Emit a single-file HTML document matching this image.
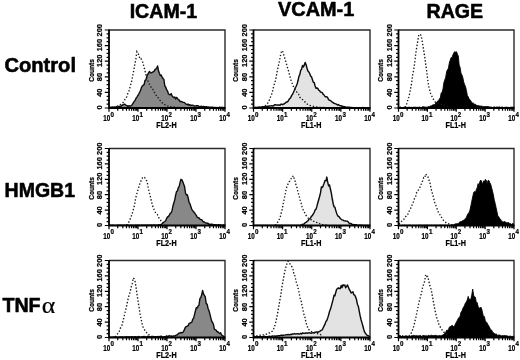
<!DOCTYPE html>
<html lang="en">
<head>
<meta charset="utf-8">
<title>ICAM-1, VCAM-1 and RAGE expression: Control, HMGB1, TNF&alpha;</title>
<style>
html,body{margin:0;padding:0;background:#fff;}
body{width:520px;height:360px;overflow:hidden;}
svg{display:block;filter:grayscale(1) blur(0.3px);}
text{font-family:"Liberation Sans",Arial,Helvetica,sans-serif;fill:#000;}
.ttl{font-weight:bold;font-size:19.6px;stroke:#000;stroke-width:0.55px;stroke-linejoin:round;}
.alpha{font-weight:normal;stroke:#000;stroke-width:0.2px;font-size:22.8px;font-family:"Liberation Serif","DejaVu Serif",serif;}
.ax,.xl,.xt,.yt,.sup{stroke:#000;stroke-width:0.22px;}
.ax{font-weight:bold;font-size:7.9px;}
.xl{font-weight:bold;font-size:8.3px;}
.xt{font-weight:bold;font-size:8.4px;}
.yt{font-weight:bold;font-size:6.9px;}
.sup{font-weight:bold;font-size:6.9px;}
</style>
</head>
<body>
<svg width="520" height="360" viewBox="0 0 520 360">
<rect width="520" height="360" fill="#fff"/>
<text class="ttl" x="163.4" y="18.0" text-anchor="middle">ICAM-1</text>
<text class="ttl" x="316.2" y="16.0" text-anchor="middle" textLength="76.2" lengthAdjust="spacingAndGlyphs">VCAM-1</text>
<text class="ttl" x="454.8" y="17.6" text-anchor="middle">RAGE</text>
<text class="ttl" x="4.4" y="72" textLength="71.6" lengthAdjust="spacingAndGlyphs">Control</text>
<text class="ttl" x="4.6" y="197" textLength="70.4" lengthAdjust="spacingAndGlyphs">HMGB1</text>
<g aria-label="TNFα"><text class="ttl" x="2.4" y="312" textLength="38.2" lengthAdjust="spacingAndGlyphs">TNF</text><text class="alpha" transform="translate(41.8,312.8) scale(1.13,1)">α</text></g>
<g id="p00">
<clipPath id="c00"><rect x="109" y="30" width="116" height="78"/></clipPath>
<g clip-path="url(#c00)">
<path d="M109.0,107.1 L109.9,107.1 L110.8,107.2 L111.7,107.1 L112.6,107.0 L113.5,107.1 L114.4,107.3 L115.3,107.2 L116.2,106.8 L117.1,106.6 L118.0,106.7 L118.9,106.8 L119.8,106.2 L120.7,106.5 L121.6,105.6 L122.5,105.1 L123.4,104.4 L124.3,104.1 L125.2,104.5 L126.1,105.3 L127.0,105.6 L127.9,106.4 L128.8,105.8 L129.7,106.0 L130.6,106.0 L131.5,105.5 L132.4,104.3 L133.3,102.8 L134.2,101.4 L135.1,100.4 L136.0,98.2 L136.9,97.1 L137.8,95.5 L138.7,94.3 L139.6,92.3 L140.5,90.5 L141.4,87.6 L142.3,86.1 L143.2,85.2 L144.1,84.6 L145.0,80.3 L145.9,80.0 L146.8,76.4 L147.7,74.4 L148.6,72.8 L149.5,71.4 L150.4,72.9 L151.3,72.9 L152.2,72.4 L153.1,71.9 L154.0,71.4 L154.9,69.7 L155.8,69.1 L156.7,67.8 L157.6,66.0 L158.5,70.8 L159.4,73.3 L160.3,75.5 L161.2,75.1 L162.1,77.1 L163.0,78.5 L163.9,79.5 L164.8,85.8 L165.7,87.0 L166.6,89.8 L167.5,90.9 L168.4,93.8 L169.3,94.6 L170.2,94.9 L171.1,93.6 L172.0,95.8 L172.9,96.8 L173.8,97.6 L174.7,97.0 L175.6,99.0 L176.5,97.4 L177.4,98.3 L178.3,99.7 L179.2,99.9 L180.1,101.7 L181.0,101.4 L181.9,101.7 L182.8,102.3 L183.7,102.4 L184.6,102.7 L185.5,103.9 L186.4,104.1 L187.3,104.7 L188.2,104.1 L189.1,105.2 L190.0,104.7 L190.9,105.6 L191.8,105.1 L192.7,105.1 L193.6,105.6 L194.5,106.0 L195.4,105.9 L196.3,105.8 L197.2,105.7 L198.1,105.8 L199.0,106.4 L199.9,106.6 L200.8,106.4 L201.7,106.3 L202.6,106.9 L203.5,106.4 L204.4,106.6 L205.3,107.0 L206.2,106.5 L207.1,107.1 L208.0,106.9 L208.9,107.1 L209.8,107.1 L210.7,107.2 L211.6,107.3 L212.5,107.1 L213.4,107.5 L214.3,107.4 L215.2,107.5 L216.1,107.6 L217.0,107.5 L217.9,107.6 L218.8,107.5 L219.7,107.3 L220.6,107.5 L221.5,107.4 L222.4,107.3 L223.3,107.6 L224.2,107.5 L225.0,107.4 L225.0,109.0 L109.0,109.0Z" fill="#888888"/>
<path d="M109.0,107.1 L109.9,107.1 L110.8,107.2 L111.7,107.1 L112.6,107.0 L113.5,107.1 L114.4,107.3 L115.3,107.2 L116.2,106.8 L117.1,106.6 L118.0,106.7 L118.9,106.8 L119.8,106.2 L120.7,106.5 L121.6,105.6 L122.5,105.1 L123.4,104.4 L124.3,104.1 L125.2,104.5 L126.1,105.3 L127.0,105.6 L127.9,106.4 L128.8,105.8 L129.7,106.0 L130.6,106.0 L131.5,105.5 L132.4,104.3 L133.3,102.8 L134.2,101.4 L135.1,100.4 L136.0,98.2 L136.9,97.1 L137.8,95.5 L138.7,94.3 L139.6,92.3 L140.5,90.5 L141.4,87.6 L142.3,86.1 L143.2,85.2 L144.1,84.6 L145.0,80.3 L145.9,80.0 L146.8,76.4 L147.7,74.4 L148.6,72.8 L149.5,71.4 L150.4,72.9 L151.3,72.9 L152.2,72.4 L153.1,71.9 L154.0,71.4 L154.9,69.7 L155.8,69.1 L156.7,67.8 L157.6,66.0 L158.5,70.8 L159.4,73.3 L160.3,75.5 L161.2,75.1 L162.1,77.1 L163.0,78.5 L163.9,79.5 L164.8,85.8 L165.7,87.0 L166.6,89.8 L167.5,90.9 L168.4,93.8 L169.3,94.6 L170.2,94.9 L171.1,93.6 L172.0,95.8 L172.9,96.8 L173.8,97.6 L174.7,97.0 L175.6,99.0 L176.5,97.4 L177.4,98.3 L178.3,99.7 L179.2,99.9 L180.1,101.7 L181.0,101.4 L181.9,101.7 L182.8,102.3 L183.7,102.4 L184.6,102.7 L185.5,103.9 L186.4,104.1 L187.3,104.7 L188.2,104.1 L189.1,105.2 L190.0,104.7 L190.9,105.6 L191.8,105.1 L192.7,105.1 L193.6,105.6 L194.5,106.0 L195.4,105.9 L196.3,105.8 L197.2,105.7 L198.1,105.8 L199.0,106.4 L199.9,106.6 L200.8,106.4 L201.7,106.3 L202.6,106.9 L203.5,106.4 L204.4,106.6 L205.3,107.0 L206.2,106.5 L207.1,107.1 L208.0,106.9 L208.9,107.1 L209.8,107.1 L210.7,107.2 L211.6,107.3 L212.5,107.1 L213.4,107.5 L214.3,107.4 L215.2,107.5 L216.1,107.6 L217.0,107.5 L217.9,107.6 L218.8,107.5 L219.7,107.3 L220.6,107.5 L221.5,107.4 L222.4,107.3 L223.3,107.6 L224.2,107.5 L225.0,107.4" fill="none" stroke="#0c0c0c" stroke-width="1.4" stroke-linejoin="round"/>
<path d="M113.9,107.2 L114.9,107.1 L115.9,106.9 L116.9,106.5 L117.9,105.8 L118.9,105.6 L119.9,104.9 L120.9,104.2 L121.9,103.4 L122.9,102.5 L123.9,101.7 L124.9,99.5 L125.9,98.0 L126.9,96.5 L127.9,93.1 L128.9,91.2 L129.9,87.5 L130.9,84.1 L131.9,80.3 L132.9,74.5 L133.9,69.8 L134.9,63.9 L135.9,58.7 L136.9,51.7 L137.9,53.2 L138.9,55.1 L139.9,58.9 L140.9,58.6 L141.9,60.4 L142.9,62.5 L143.9,66.8 L144.9,70.2 L145.9,74.8 L146.9,78.2 L147.9,81.1 L148.9,83.5 L149.9,84.8 L150.9,86.8 L151.9,88.3 L152.9,89.5 L153.9,91.9 L154.9,93.0 L155.9,94.7 L156.9,96.9 L157.9,97.6 L158.9,98.8 L159.9,100.2 L160.9,101.4 L161.9,102.7 L162.9,103.2 L163.9,104.5 L164.9,104.7 L165.9,105.0 L166.9,105.5 L167.9,106.2 L168.9,106.5 L169.9,106.8 L170.9,106.7 L171.9,106.9 L172.9,106.9 L173.9,106.9 L174.9,107.2 L175.9,107.4 L176.9,107.5 L177.9,107.4 L178.9,107.6 L179.9,107.5 L180.9,107.6 L181.9,107.6 L182.6,107.5" fill="none" stroke="#1a1a1a" stroke-width="1.35" stroke-dasharray="1.4 1.9"/>
</g>
<path d="M109,30 H225 V108" fill="none" stroke="#2a2a2a" stroke-width="1.4"/>
<path d="M109,29.5 V108 H225.5" fill="none" stroke="#000" stroke-width="1.8"/>
<path d="M109,108 h-4.2 M109,104.1 h-2.4 M109,100.2 h-2.4 M109,96.3 h-2.4 M109,92.4 h-4.2 M109,88.5 h-2.4 M109,84.6 h-2.4 M109,80.7 h-2.4 M109,76.8 h-4.2 M109,72.9 h-2.4 M109,69 h-2.4 M109,65.1 h-2.4 M109,61.2 h-4.2 M109,57.3 h-2.4 M109,53.4 h-2.4 M109,49.5 h-2.4 M109,45.6 h-4.2 M109,41.7 h-2.4 M109,37.8 h-2.4 M109,33.9 h-2.4 M109,30 h-4.2" stroke="#000" stroke-width="1.2" fill="none"/>
<path d="M109,108 v3.8 M117.73,108 v2.7 M122.84,108 v2.7 M126.46,108 v2.7 M129.27,108 v2.7 M131.57,108 v2.7 M133.51,108 v2.7 M135.19,108 v2.7 M136.67,108 v2.7 M138,108 v3.8 M146.73,108 v2.7 M151.84,108 v2.7 M155.46,108 v2.7 M158.27,108 v2.7 M160.57,108 v2.7 M162.51,108 v2.7 M164.19,108 v2.7 M165.67,108 v2.7 M167,108 v3.8 M175.73,108 v2.7 M180.84,108 v2.7 M184.46,108 v2.7 M187.27,108 v2.7 M189.57,108 v2.7 M191.51,108 v2.7 M193.19,108 v2.7 M194.67,108 v2.7 M196,108 v3.8 M204.73,108 v2.7 M209.84,108 v2.7 M213.46,108 v2.7 M216.27,108 v2.7 M218.57,108 v2.7 M220.51,108 v2.7 M222.19,108 v2.7 M223.67,108 v2.7 M225,108 v3.8" stroke="#000" stroke-width="1.2" fill="none"/>
<text class="yt" text-anchor="middle" transform="translate(102.05,107.5) rotate(-90) scale(1.08,1)">0</text>
<text class="yt" text-anchor="middle" transform="translate(102.05,92.7) rotate(-90) scale(1.08,1)">40</text>
<text class="yt" text-anchor="middle" transform="translate(102.05,77.1) rotate(-90) scale(1.08,1)">80</text>
<text class="yt" text-anchor="middle" transform="translate(102.05,60.7) rotate(-90) scale(1.08,1)">120</text>
<text class="yt" text-anchor="middle" transform="translate(102.05,45.1) rotate(-90) scale(1.08,1)">160</text>
<text class="yt" text-anchor="middle" transform="translate(102.05,30.3) rotate(-90) scale(1.08,1)">200</text>
<text class="ax" text-anchor="middle" transform="translate(93.6,70.4) rotate(-90) scale(0.84,1)">Counts</text>
<text class="xt" text-anchor="end" transform="translate(110.2,121.15) scale(0.75,1)">10</text>
<text class="sup" transform="translate(110.5,116.9) scale(0.9,1)">0</text>
<text class="xt" text-anchor="end" transform="translate(139.2,121.15) scale(0.75,1)">10</text>
<text class="sup" transform="translate(139.5,116.9) scale(0.9,1)">1</text>
<text class="xt" text-anchor="end" transform="translate(168.2,121.15) scale(0.75,1)">10</text>
<text class="sup" transform="translate(168.5,116.9) scale(0.9,1)">2</text>
<text class="xt" text-anchor="end" transform="translate(197.2,121.15) scale(0.75,1)">10</text>
<text class="sup" transform="translate(197.5,116.9) scale(0.9,1)">3</text>
<text class="xt" text-anchor="end" transform="translate(226.2,121.15) scale(0.75,1)">10</text>
<text class="sup" transform="translate(226.5,116.9) scale(0.9,1)">4</text>
<text class="xl" text-anchor="middle" transform="translate(166.5,128.2) scale(0.87,1)">FL2-H</text>
</g>
<g id="p01">
<clipPath id="c01"><rect x="253.5" y="30" width="116.5" height="78"/></clipPath>
<g clip-path="url(#c01)">
<path d="M253.0,107.6 L253.9,107.6 L254.8,107.5 L255.7,107.2 L256.6,107.4 L257.5,107.3 L258.4,107.1 L259.3,107.2 L260.2,107.1 L261.1,107.0 L262.0,106.9 L262.9,106.9 L263.8,106.6 L264.7,106.6 L265.6,106.4 L266.5,106.6 L267.4,106.3 L268.3,106.2 L269.2,106.0 L270.1,106.0 L271.0,105.9 L271.9,105.7 L272.8,106.0 L273.7,105.8 L274.6,104.7 L275.5,104.8 L276.4,105.1 L277.3,104.9 L278.2,105.0 L279.1,104.9 L280.0,105.3 L280.9,104.1 L281.8,104.2 L282.7,104.7 L283.6,104.0 L284.5,103.7 L285.4,102.9 L286.3,102.0 L287.2,102.1 L288.1,101.2 L289.0,99.5 L289.9,98.4 L290.8,97.4 L291.7,95.4 L292.6,94.1 L293.5,92.3 L294.4,90.3 L295.3,87.7 L296.2,86.3 L297.1,84.0 L298.0,80.8 L298.9,76.5 L299.8,74.6 L300.7,70.4 L301.6,69.1 L302.5,65.6 L303.4,66.9 L304.3,64.9 L305.2,62.4 L306.1,64.7 L307.0,68.3 L307.9,70.9 L308.8,71.9 L309.7,73.5 L310.6,76.0 L311.5,76.8 L312.4,79.5 L313.3,82.4 L314.2,82.5 L315.1,86.0 L316.0,88.2 L316.9,88.0 L317.8,88.4 L318.7,90.2 L319.6,90.6 L320.5,92.1 L321.4,92.3 L322.3,92.7 L323.2,94.4 L324.1,95.0 L325.0,96.5 L325.9,96.9 L326.8,96.7 L327.7,97.8 L328.6,99.6 L329.5,100.3 L330.4,100.4 L331.3,101.3 L332.2,102.1 L333.1,102.7 L334.0,103.3 L334.9,103.6 L335.8,103.9 L336.7,104.3 L337.6,105.1 L338.5,104.5 L339.4,105.4 L340.3,105.7 L341.2,105.7 L342.1,106.3 L343.0,106.3 L343.9,106.8 L344.8,106.7 L345.7,107.0 L346.6,107.2 L347.5,107.2 L348.4,107.2 L349.3,107.2 L350.2,107.7 L351.1,107.5 L352.0,107.5 L352.9,107.6 L353.8,107.6 L354.7,107.7 L355.6,107.6 L356.5,107.7 L357.4,107.6 L358.3,107.7 L359.2,107.6 L360.1,107.8 L361.0,107.9 L361.9,107.6 L362.8,107.5 L363.7,107.8 L364.6,108.0 L365.5,107.7 L366.4,107.7 L367.3,107.8 L368.2,107.7 L369.1,107.7 L370.0,107.7 L370.0,109.0 L253.0,109.0Z" fill="#e3e3e3"/>
<path d="M253.0,107.6 L253.9,107.6 L254.8,107.5 L255.7,107.2 L256.6,107.4 L257.5,107.3 L258.4,107.1 L259.3,107.2 L260.2,107.1 L261.1,107.0 L262.0,106.9 L262.9,106.9 L263.8,106.6 L264.7,106.6 L265.6,106.4 L266.5,106.6 L267.4,106.3 L268.3,106.2 L269.2,106.0 L270.1,106.0 L271.0,105.9 L271.9,105.7 L272.8,106.0 L273.7,105.8 L274.6,104.7 L275.5,104.8 L276.4,105.1 L277.3,104.9 L278.2,105.0 L279.1,104.9 L280.0,105.3 L280.9,104.1 L281.8,104.2 L282.7,104.7 L283.6,104.0 L284.5,103.7 L285.4,102.9 L286.3,102.0 L287.2,102.1 L288.1,101.2 L289.0,99.5 L289.9,98.4 L290.8,97.4 L291.7,95.4 L292.6,94.1 L293.5,92.3 L294.4,90.3 L295.3,87.7 L296.2,86.3 L297.1,84.0 L298.0,80.8 L298.9,76.5 L299.8,74.6 L300.7,70.4 L301.6,69.1 L302.5,65.6 L303.4,66.9 L304.3,64.9 L305.2,62.4 L306.1,64.7 L307.0,68.3 L307.9,70.9 L308.8,71.9 L309.7,73.5 L310.6,76.0 L311.5,76.8 L312.4,79.5 L313.3,82.4 L314.2,82.5 L315.1,86.0 L316.0,88.2 L316.9,88.0 L317.8,88.4 L318.7,90.2 L319.6,90.6 L320.5,92.1 L321.4,92.3 L322.3,92.7 L323.2,94.4 L324.1,95.0 L325.0,96.5 L325.9,96.9 L326.8,96.7 L327.7,97.8 L328.6,99.6 L329.5,100.3 L330.4,100.4 L331.3,101.3 L332.2,102.1 L333.1,102.7 L334.0,103.3 L334.9,103.6 L335.8,103.9 L336.7,104.3 L337.6,105.1 L338.5,104.5 L339.4,105.4 L340.3,105.7 L341.2,105.7 L342.1,106.3 L343.0,106.3 L343.9,106.8 L344.8,106.7 L345.7,107.0 L346.6,107.2 L347.5,107.2 L348.4,107.2 L349.3,107.2 L350.2,107.7 L351.1,107.5 L352.0,107.5 L352.9,107.6 L353.8,107.6 L354.7,107.7 L355.6,107.6 L356.5,107.7 L357.4,107.6 L358.3,107.7 L359.2,107.6 L360.1,107.8 L361.0,107.9 L361.9,107.6 L362.8,107.5 L363.7,107.8 L364.6,108.0 L365.5,107.7 L366.4,107.7 L367.3,107.8 L368.2,107.7 L369.1,107.7 L370.0,107.7" fill="none" stroke="#0c0c0c" stroke-width="1.45" stroke-linejoin="round"/>
<path d="M258.6,107.5 L259.6,107.3 L260.6,107.4 L261.6,107.1 L262.6,106.6 L263.6,106.3 L264.6,106.0 L265.6,105.3 L266.6,104.5 L267.6,103.3 L268.6,101.2 L269.6,99.7 L270.6,96.7 L271.6,94.4 L272.6,90.9 L273.6,86.5 L274.6,83.4 L275.6,80.1 L276.6,74.6 L277.6,69.3 L278.6,64.8 L279.6,60.5 L280.6,54.9 L281.6,51.0 L282.6,50.8 L283.6,54.8 L284.6,57.6 L285.6,61.0 L286.6,64.3 L287.6,68.0 L288.6,71.3 L289.6,75.2 L290.6,78.7 L291.6,82.3 L292.6,84.1 L293.6,87.1 L294.6,88.3 L295.6,90.0 L296.6,91.7 L297.6,93.2 L298.6,94.1 L299.6,97.1 L300.6,98.1 L301.6,99.3 L302.6,99.7 L303.6,100.5 L304.6,101.6 L305.6,102.6 L306.6,103.7 L307.6,104.3 L308.6,104.9 L309.6,105.4 L310.6,105.6 L311.6,105.9 L312.6,106.1 L313.6,106.4 L314.6,106.4 L315.6,106.8 L316.6,106.9 L317.6,107.0 L318.6,107.1 L319.6,107.3 L320.6,107.5 L321.6,107.4 L322.6,107.5 L323.6,107.5 L324.6,107.5 L325.0,107.5" fill="none" stroke="#1a1a1a" stroke-width="1.35" stroke-dasharray="1.4 1.9"/>
</g>
<path d="M253.5,30 H370 V108" fill="none" stroke="#2a2a2a" stroke-width="1.4"/>
<path d="M253.5,29.5 V108 H370.5" fill="none" stroke="#000" stroke-width="1.8"/>
<path d="M253.5,108 h-4.2 M253.5,104.1 h-2.4 M253.5,100.2 h-2.4 M253.5,96.3 h-2.4 M253.5,92.4 h-4.2 M253.5,88.5 h-2.4 M253.5,84.6 h-2.4 M253.5,80.7 h-2.4 M253.5,76.8 h-4.2 M253.5,72.9 h-2.4 M253.5,69 h-2.4 M253.5,65.1 h-2.4 M253.5,61.2 h-4.2 M253.5,57.3 h-2.4 M253.5,53.4 h-2.4 M253.5,49.5 h-2.4 M253.5,45.6 h-4.2 M253.5,41.7 h-2.4 M253.5,37.8 h-2.4 M253.5,33.9 h-2.4 M253.5,30 h-4.2" stroke="#000" stroke-width="1.2" fill="none"/>
<path d="M253.5,108 v3.8 M262.27,108 v2.7 M267.4,108 v2.7 M271.03,108 v2.7 M273.86,108 v2.7 M276.16,108 v2.7 M278.11,108 v2.7 M279.8,108 v2.7 M281.29,108 v2.7 M282.62,108 v3.8 M291.39,108 v2.7 M296.52,108 v2.7 M300.16,108 v2.7 M302.98,108 v2.7 M305.29,108 v2.7 M307.24,108 v2.7 M308.93,108 v2.7 M310.42,108 v2.7 M311.75,108 v3.8 M320.52,108 v2.7 M325.65,108 v2.7 M329.28,108 v2.7 M332.11,108 v2.7 M334.41,108 v2.7 M336.36,108 v2.7 M338.05,108 v2.7 M339.54,108 v2.7 M340.88,108 v3.8 M349.64,108 v2.7 M354.77,108 v2.7 M358.41,108 v2.7 M361.23,108 v2.7 M363.54,108 v2.7 M365.49,108 v2.7 M367.18,108 v2.7 M368.67,108 v2.7 M370,108 v3.8" stroke="#000" stroke-width="1.2" fill="none"/>
<text class="yt" text-anchor="middle" transform="translate(246.55,107.5) rotate(-90) scale(1.08,1)">0</text>
<text class="yt" text-anchor="middle" transform="translate(246.55,92.7) rotate(-90) scale(1.08,1)">40</text>
<text class="yt" text-anchor="middle" transform="translate(246.55,77.1) rotate(-90) scale(1.08,1)">80</text>
<text class="yt" text-anchor="middle" transform="translate(246.55,60.7) rotate(-90) scale(1.08,1)">120</text>
<text class="yt" text-anchor="middle" transform="translate(246.55,45.1) rotate(-90) scale(1.08,1)">160</text>
<text class="yt" text-anchor="middle" transform="translate(246.55,30.3) rotate(-90) scale(1.08,1)">200</text>
<text class="ax" text-anchor="middle" transform="translate(238.1,70.4) rotate(-90) scale(0.84,1)">Counts</text>
<text class="xt" text-anchor="end" transform="translate(254.7,121.15) scale(0.75,1)">10</text>
<text class="sup" transform="translate(255,116.9) scale(0.9,1)">0</text>
<text class="xt" text-anchor="end" transform="translate(283.82,121.15) scale(0.75,1)">10</text>
<text class="sup" transform="translate(284.12,116.9) scale(0.9,1)">1</text>
<text class="xt" text-anchor="end" transform="translate(312.95,121.15) scale(0.75,1)">10</text>
<text class="sup" transform="translate(313.25,116.9) scale(0.9,1)">2</text>
<text class="xt" text-anchor="end" transform="translate(342.07,121.15) scale(0.75,1)">10</text>
<text class="sup" transform="translate(342.38,116.9) scale(0.9,1)">3</text>
<text class="xt" text-anchor="end" transform="translate(371.2,121.15) scale(0.75,1)">10</text>
<text class="sup" transform="translate(371.5,116.9) scale(0.9,1)">4</text>
<text class="xl" text-anchor="middle" transform="translate(311.25,128.2) scale(0.87,1)">FL1-H</text>
</g>
<g id="p02">
<clipPath id="c02"><rect x="398.5" y="30" width="115.5" height="78"/></clipPath>
<g clip-path="url(#c02)">
<path d="M398.0,107.4 L398.9,107.2 L399.8,107.3 L400.7,106.9 L401.6,107.6 L402.5,107.5 L403.4,107.3 L404.3,107.5 L405.2,107.4 L406.1,107.2 L407.0,107.5 L407.9,107.3 L408.8,107.2 L409.7,107.2 L410.6,107.4 L411.5,107.3 L412.4,107.4 L413.3,107.2 L414.2,107.3 L415.1,107.1 L416.0,107.4 L416.9,107.3 L417.8,107.3 L418.7,107.3 L419.6,107.0 L420.5,107.3 L421.4,107.6 L422.3,106.8 L423.2,106.8 L424.1,106.8 L425.0,107.3 L425.9,107.1 L426.8,107.2 L427.7,106.9 L428.6,106.6 L429.5,106.4 L430.4,106.0 L431.3,106.1 L432.2,105.1 L433.1,104.9 L434.0,104.6 L434.9,104.7 L435.8,102.8 L436.7,101.9 L437.6,101.1 L438.5,100.9 L439.4,98.7 L440.3,97.9 L441.2,92.9 L442.1,92.4 L443.0,88.8 L443.9,82.4 L444.8,80.0 L445.7,77.2 L446.6,71.9 L447.5,69.5 L448.4,68.4 L449.3,63.1 L450.2,60.2 L451.1,57.5 L452.0,57.8 L452.9,54.9 L453.8,53.1 L454.7,51.6 L455.6,52.2 L456.5,51.7 L457.4,54.2 L458.3,56.1 L459.2,65.1 L460.1,67.5 L461.0,73.2 L461.9,74.9 L462.8,77.4 L463.7,82.0 L464.6,84.5 L465.5,86.6 L466.4,90.3 L467.3,95.4 L468.2,96.7 L469.1,98.8 L470.0,99.9 L470.9,100.9 L471.8,102.8 L472.7,103.0 L473.6,103.3 L474.5,104.2 L475.4,104.3 L476.3,105.1 L477.2,105.7 L478.1,105.3 L479.0,106.2 L479.9,105.8 L480.8,106.2 L481.7,106.1 L482.6,106.4 L483.5,106.6 L484.4,106.5 L485.3,106.5 L486.2,106.6 L487.1,106.6 L488.0,106.4 L488.9,106.8 L489.8,107.0 L490.7,107.1 L491.6,107.1 L492.5,107.5 L493.4,107.1 L494.3,106.9 L495.2,107.5 L496.1,106.9 L497.0,107.3 L497.9,106.9 L498.8,107.2 L499.7,106.8 L500.6,107.4 L501.5,107.2 L502.4,107.0 L503.3,107.6 L504.2,107.4 L505.1,107.3 L506.0,107.1 L506.9,107.3 L507.8,107.3 L508.7,107.4 L509.6,107.5 L510.5,107.2 L511.4,107.2 L512.3,107.2 L513.2,107.1 L514.0,107.2 L514.0,109.0 L398.0,109.0Z" fill="#000"/>
<path d="M398.0,107.4 L398.9,107.2 L399.8,107.3 L400.7,106.9 L401.6,107.6 L402.5,107.5 L403.4,107.3 L404.3,107.5 L405.2,107.4 L406.1,107.2 L407.0,107.5 L407.9,107.3 L408.8,107.2 L409.7,107.2 L410.6,107.4 L411.5,107.3 L412.4,107.4 L413.3,107.2 L414.2,107.3 L415.1,107.1 L416.0,107.4 L416.9,107.3 L417.8,107.3 L418.7,107.3 L419.6,107.0 L420.5,107.3 L421.4,107.6 L422.3,106.8 L423.2,106.8 L424.1,106.8 L425.0,107.3 L425.9,107.1 L426.8,107.2 L427.7,106.9 L428.6,106.6 L429.5,106.4 L430.4,106.0 L431.3,106.1 L432.2,105.1 L433.1,104.9 L434.0,104.6 L434.9,104.7 L435.8,102.8 L436.7,101.9 L437.6,101.1 L438.5,100.9 L439.4,98.7 L440.3,97.9 L441.2,92.9 L442.1,92.4 L443.0,88.8 L443.9,82.4 L444.8,80.0 L445.7,77.2 L446.6,71.9 L447.5,69.5 L448.4,68.4 L449.3,63.1 L450.2,60.2 L451.1,57.5 L452.0,57.8 L452.9,54.9 L453.8,53.1 L454.7,51.6 L455.6,52.2 L456.5,51.7 L457.4,54.2 L458.3,56.1 L459.2,65.1 L460.1,67.5 L461.0,73.2 L461.9,74.9 L462.8,77.4 L463.7,82.0 L464.6,84.5 L465.5,86.6 L466.4,90.3 L467.3,95.4 L468.2,96.7 L469.1,98.8 L470.0,99.9 L470.9,100.9 L471.8,102.8 L472.7,103.0 L473.6,103.3 L474.5,104.2 L475.4,104.3 L476.3,105.1 L477.2,105.7 L478.1,105.3 L479.0,106.2 L479.9,105.8 L480.8,106.2 L481.7,106.1 L482.6,106.4 L483.5,106.6 L484.4,106.5 L485.3,106.5 L486.2,106.6 L487.1,106.6 L488.0,106.4 L488.9,106.8 L489.8,107.0 L490.7,107.1 L491.6,107.1 L492.5,107.5 L493.4,107.1 L494.3,106.9 L495.2,107.5 L496.1,106.9 L497.0,107.3 L497.9,106.9 L498.8,107.2 L499.7,106.8 L500.6,107.4 L501.5,107.2 L502.4,107.0 L503.3,107.6 L504.2,107.4 L505.1,107.3 L506.0,107.1 L506.9,107.3 L507.8,107.3 L508.7,107.4 L509.6,107.5 L510.5,107.2 L511.4,107.2 L512.3,107.2 L513.2,107.1 L514.0,107.2" fill="none" stroke="#000" stroke-width="0.9" stroke-linejoin="round"/>
<path d="M404.7,107.2 L405.7,106.1 L406.7,103.7 L407.7,100.5 L408.7,97.4 L409.7,93.5 L410.7,88.0 L411.7,82.8 L412.7,74.4 L413.7,70.1 L414.7,63.0 L415.7,53.7 L416.7,47.5 L417.7,41.2 L418.7,35.5 L419.7,34.0 L420.7,34.9 L421.7,38.3 L422.7,44.3 L423.7,50.5 L424.7,56.5 L425.7,64.5 L426.7,70.9 L427.7,79.7 L428.7,86.4 L429.7,90.2 L430.7,93.7 L431.7,95.7 L432.7,98.6 L433.7,99.6 L434.7,101.4 L435.7,102.4 L436.7,102.8 L437.7,103.0 L438.7,103.5 L439.7,103.7 L440.7,104.2 L441.7,104.6 L442.7,104.9 L443.7,104.9 L444.7,105.8 L445.7,106.2 L446.7,106.4 L447.7,107.0 L448.2,107.2" fill="none" stroke="#1a1a1a" stroke-width="1.35" stroke-dasharray="1.4 1.9"/>
</g>
<path d="M398.5,30 H514 V108" fill="none" stroke="#2a2a2a" stroke-width="1.4"/>
<path d="M398.5,29.5 V108 H514.5" fill="none" stroke="#000" stroke-width="1.8"/>
<path d="M398.5,108 h-4.2 M398.5,104.1 h-2.4 M398.5,100.2 h-2.4 M398.5,96.3 h-2.4 M398.5,92.4 h-4.2 M398.5,88.5 h-2.4 M398.5,84.6 h-2.4 M398.5,80.7 h-2.4 M398.5,76.8 h-4.2 M398.5,72.9 h-2.4 M398.5,69 h-2.4 M398.5,65.1 h-2.4 M398.5,61.2 h-4.2 M398.5,57.3 h-2.4 M398.5,53.4 h-2.4 M398.5,49.5 h-2.4 M398.5,45.6 h-4.2 M398.5,41.7 h-2.4 M398.5,37.8 h-2.4 M398.5,33.9 h-2.4 M398.5,30 h-4.2" stroke="#000" stroke-width="1.2" fill="none"/>
<path d="M398.5,108 v3.8 M407.19,108 v2.7 M412.28,108 v2.7 M415.88,108 v2.7 M418.68,108 v2.7 M420.97,108 v2.7 M422.9,108 v2.7 M424.58,108 v2.7 M426.05,108 v2.7 M427.38,108 v3.8 M436.07,108 v2.7 M441.15,108 v2.7 M444.76,108 v2.7 M447.56,108 v2.7 M449.84,108 v2.7 M451.78,108 v2.7 M453.45,108 v2.7 M454.93,108 v2.7 M456.25,108 v3.8 M464.94,108 v2.7 M470.03,108 v2.7 M473.63,108 v2.7 M476.43,108 v2.7 M478.72,108 v2.7 M480.65,108 v2.7 M482.33,108 v2.7 M483.8,108 v2.7 M485.12,108 v3.8 M493.82,108 v2.7 M498.9,108 v2.7 M502.51,108 v2.7 M505.31,108 v2.7 M507.59,108 v2.7 M509.53,108 v2.7 M511.2,108 v2.7 M512.68,108 v2.7 M514,108 v3.8" stroke="#000" stroke-width="1.2" fill="none"/>
<text class="yt" text-anchor="middle" transform="translate(391.55,107.5) rotate(-90) scale(1.08,1)">0</text>
<text class="yt" text-anchor="middle" transform="translate(391.55,92.7) rotate(-90) scale(1.08,1)">40</text>
<text class="yt" text-anchor="middle" transform="translate(391.55,77.1) rotate(-90) scale(1.08,1)">80</text>
<text class="yt" text-anchor="middle" transform="translate(391.55,60.7) rotate(-90) scale(1.08,1)">120</text>
<text class="yt" text-anchor="middle" transform="translate(391.55,45.1) rotate(-90) scale(1.08,1)">160</text>
<text class="yt" text-anchor="middle" transform="translate(391.55,30.3) rotate(-90) scale(1.08,1)">200</text>
<text class="ax" text-anchor="middle" transform="translate(383.1,70.4) rotate(-90) scale(0.84,1)">Counts</text>
<text class="xt" text-anchor="end" transform="translate(399.7,121.15) scale(0.75,1)">10</text>
<text class="sup" transform="translate(400,116.9) scale(0.9,1)">0</text>
<text class="xt" text-anchor="end" transform="translate(428.57,121.15) scale(0.75,1)">10</text>
<text class="sup" transform="translate(428.88,116.9) scale(0.9,1)">1</text>
<text class="xt" text-anchor="end" transform="translate(457.45,121.15) scale(0.75,1)">10</text>
<text class="sup" transform="translate(457.75,116.9) scale(0.9,1)">2</text>
<text class="xt" text-anchor="end" transform="translate(486.32,121.15) scale(0.75,1)">10</text>
<text class="sup" transform="translate(486.62,116.9) scale(0.9,1)">3</text>
<text class="xt" text-anchor="end" transform="translate(515.2,121.15) scale(0.75,1)">10</text>
<text class="sup" transform="translate(515.5,116.9) scale(0.9,1)">4</text>
<text class="xl" text-anchor="middle" transform="translate(455.75,128.2) scale(0.87,1)">FL1-H</text>
</g>
<g id="p10">
<clipPath id="c10"><rect x="109" y="148.5" width="116" height="77"/></clipPath>
<g clip-path="url(#c10)">
<path d="M109.0,225.2 L109.9,225.3 L110.8,225.3 L111.7,225.4 L112.6,225.3 L113.5,225.3 L114.4,225.4 L115.3,225.4 L116.2,225.4 L117.1,225.3 L118.0,225.3 L118.9,225.3 L119.8,225.3 L120.7,225.3 L121.6,225.2 L122.5,225.2 L123.4,225.3 L124.3,225.2 L125.2,225.3 L126.1,225.4 L127.0,225.2 L127.9,225.2 L128.8,225.2 L129.7,225.4 L130.6,225.3 L131.5,225.1 L132.4,225.3 L133.3,225.4 L134.2,225.4 L135.1,225.3 L136.0,225.3 L136.9,225.1 L137.8,225.3 L138.7,225.3 L139.6,225.3 L140.5,225.4 L141.4,225.3 L142.3,225.3 L143.2,225.3 L144.1,225.2 L145.0,225.2 L145.9,225.2 L146.8,225.3 L147.7,225.3 L148.6,225.2 L149.5,225.3 L150.4,225.2 L151.3,225.0 L152.2,225.3 L153.1,225.2 L154.0,225.0 L154.9,225.2 L155.8,225.1 L156.7,225.1 L157.6,225.2 L158.5,224.8 L159.4,224.9 L160.3,224.8 L161.2,224.5 L162.1,223.7 L163.0,222.8 L163.9,222.0 L164.8,221.5 L165.7,220.8 L166.6,218.6 L167.5,216.9 L168.4,216.5 L169.3,215.1 L170.2,213.4 L171.1,212.8 L172.0,210.7 L172.9,206.3 L173.8,203.0 L174.7,200.1 L175.6,195.4 L176.5,191.6 L177.4,191.0 L178.3,187.7 L179.2,186.4 L180.1,182.4 L181.0,179.3 L181.9,179.9 L182.8,181.8 L183.7,184.2 L184.6,186.8 L185.5,193.0 L186.4,195.0 L187.3,194.7 L188.2,198.0 L189.1,202.4 L190.0,203.8 L190.9,206.7 L191.8,209.4 L192.7,210.6 L193.6,211.8 L194.5,212.7 L195.4,214.1 L196.3,215.4 L197.2,217.2 L198.1,217.7 L199.0,217.8 L199.9,219.2 L200.8,219.6 L201.7,219.7 L202.6,221.0 L203.5,222.0 L204.4,221.9 L205.3,222.9 L206.2,222.9 L207.1,223.3 L208.0,223.2 L208.9,224.3 L209.8,224.1 L210.7,224.5 L211.6,224.3 L212.5,224.2 L213.4,224.9 L214.3,224.6 L215.2,225.0 L216.1,224.8 L217.0,225.1 L217.9,224.8 L218.8,224.7 L219.7,225.1 L220.6,225.0 L221.5,225.1 L222.4,225.2 L223.3,225.0 L224.2,224.9 L225.0,225.0 L225.0,226.5 L109.0,226.5Z" fill="#888888"/>
<path d="M109.0,225.2 L109.9,225.3 L110.8,225.3 L111.7,225.4 L112.6,225.3 L113.5,225.3 L114.4,225.4 L115.3,225.4 L116.2,225.4 L117.1,225.3 L118.0,225.3 L118.9,225.3 L119.8,225.3 L120.7,225.3 L121.6,225.2 L122.5,225.2 L123.4,225.3 L124.3,225.2 L125.2,225.3 L126.1,225.4 L127.0,225.2 L127.9,225.2 L128.8,225.2 L129.7,225.4 L130.6,225.3 L131.5,225.1 L132.4,225.3 L133.3,225.4 L134.2,225.4 L135.1,225.3 L136.0,225.3 L136.9,225.1 L137.8,225.3 L138.7,225.3 L139.6,225.3 L140.5,225.4 L141.4,225.3 L142.3,225.3 L143.2,225.3 L144.1,225.2 L145.0,225.2 L145.9,225.2 L146.8,225.3 L147.7,225.3 L148.6,225.2 L149.5,225.3 L150.4,225.2 L151.3,225.0 L152.2,225.3 L153.1,225.2 L154.0,225.0 L154.9,225.2 L155.8,225.1 L156.7,225.1 L157.6,225.2 L158.5,224.8 L159.4,224.9 L160.3,224.8 L161.2,224.5 L162.1,223.7 L163.0,222.8 L163.9,222.0 L164.8,221.5 L165.7,220.8 L166.6,218.6 L167.5,216.9 L168.4,216.5 L169.3,215.1 L170.2,213.4 L171.1,212.8 L172.0,210.7 L172.9,206.3 L173.8,203.0 L174.7,200.1 L175.6,195.4 L176.5,191.6 L177.4,191.0 L178.3,187.7 L179.2,186.4 L180.1,182.4 L181.0,179.3 L181.9,179.9 L182.8,181.8 L183.7,184.2 L184.6,186.8 L185.5,193.0 L186.4,195.0 L187.3,194.7 L188.2,198.0 L189.1,202.4 L190.0,203.8 L190.9,206.7 L191.8,209.4 L192.7,210.6 L193.6,211.8 L194.5,212.7 L195.4,214.1 L196.3,215.4 L197.2,217.2 L198.1,217.7 L199.0,217.8 L199.9,219.2 L200.8,219.6 L201.7,219.7 L202.6,221.0 L203.5,222.0 L204.4,221.9 L205.3,222.9 L206.2,222.9 L207.1,223.3 L208.0,223.2 L208.9,224.3 L209.8,224.1 L210.7,224.5 L211.6,224.3 L212.5,224.2 L213.4,224.9 L214.3,224.6 L215.2,225.0 L216.1,224.8 L217.0,225.1 L217.9,224.8 L218.8,224.7 L219.7,225.1 L220.6,225.0 L221.5,225.1 L222.4,225.2 L223.3,225.0 L224.2,224.9 L225.0,225.0" fill="none" stroke="#0c0c0c" stroke-width="1.4" stroke-linejoin="round"/>
<path d="M126.4,225.1 L127.4,224.2 L128.4,222.9 L129.4,220.9 L130.4,218.5 L131.4,216.1 L132.4,212.9 L133.4,209.4 L134.4,205.6 L135.4,199.7 L136.4,195.4 L137.4,191.6 L138.4,188.7 L139.4,184.9 L140.4,181.9 L141.4,180.1 L142.4,177.8 L143.4,176.9 L144.4,177.3 L145.4,178.5 L146.4,180.3 L147.4,183.1 L148.4,188.8 L149.4,193.0 L150.4,196.9 L151.4,201.0 L152.4,205.1 L153.4,208.0 L154.4,210.4 L155.4,212.5 L156.4,213.7 L157.4,214.6 L158.4,217.1 L159.4,218.5 L160.4,219.8 L161.4,221.7 L162.4,222.9 L163.4,223.4 L164.4,224.3 L165.2,224.8" fill="none" stroke="#1a1a1a" stroke-width="1.35" stroke-dasharray="1.4 1.9"/>
</g>
<path d="M109,148.5 H225 V225.5" fill="none" stroke="#2a2a2a" stroke-width="1.4"/>
<path d="M109,148 V225.5 H225.5" fill="none" stroke="#000" stroke-width="1.8"/>
<path d="M109,225.5 h-4.2 M109,221.65 h-2.4 M109,217.8 h-2.4 M109,213.95 h-2.4 M109,210.1 h-4.2 M109,206.25 h-2.4 M109,202.4 h-2.4 M109,198.55 h-2.4 M109,194.7 h-4.2 M109,190.85 h-2.4 M109,187 h-2.4 M109,183.15 h-2.4 M109,179.3 h-4.2 M109,175.45 h-2.4 M109,171.6 h-2.4 M109,167.75 h-2.4 M109,163.9 h-4.2 M109,160.05 h-2.4 M109,156.2 h-2.4 M109,152.35 h-2.4 M109,148.5 h-4.2" stroke="#000" stroke-width="1.2" fill="none"/>
<path d="M109,225.5 v3.8 M117.73,225.5 v2.7 M122.84,225.5 v2.7 M126.46,225.5 v2.7 M129.27,225.5 v2.7 M131.57,225.5 v2.7 M133.51,225.5 v2.7 M135.19,225.5 v2.7 M136.67,225.5 v2.7 M138,225.5 v3.8 M146.73,225.5 v2.7 M151.84,225.5 v2.7 M155.46,225.5 v2.7 M158.27,225.5 v2.7 M160.57,225.5 v2.7 M162.51,225.5 v2.7 M164.19,225.5 v2.7 M165.67,225.5 v2.7 M167,225.5 v3.8 M175.73,225.5 v2.7 M180.84,225.5 v2.7 M184.46,225.5 v2.7 M187.27,225.5 v2.7 M189.57,225.5 v2.7 M191.51,225.5 v2.7 M193.19,225.5 v2.7 M194.67,225.5 v2.7 M196,225.5 v3.8 M204.73,225.5 v2.7 M209.84,225.5 v2.7 M213.46,225.5 v2.7 M216.27,225.5 v2.7 M218.57,225.5 v2.7 M220.51,225.5 v2.7 M222.19,225.5 v2.7 M223.67,225.5 v2.7 M225,225.5 v3.8" stroke="#000" stroke-width="1.2" fill="none"/>
<text class="yt" text-anchor="middle" transform="translate(102.05,225) rotate(-90) scale(1.08,1)">0</text>
<text class="yt" text-anchor="middle" transform="translate(102.05,210.4) rotate(-90) scale(1.08,1)">40</text>
<text class="yt" text-anchor="middle" transform="translate(102.05,195) rotate(-90) scale(1.08,1)">80</text>
<text class="yt" text-anchor="middle" transform="translate(102.05,178.8) rotate(-90) scale(1.08,1)">120</text>
<text class="yt" text-anchor="middle" transform="translate(102.05,163.4) rotate(-90) scale(1.08,1)">160</text>
<text class="yt" text-anchor="middle" transform="translate(102.05,148.8) rotate(-90) scale(1.08,1)">200</text>
<text class="ax" text-anchor="middle" transform="translate(93.6,188.4) rotate(-90) scale(0.84,1)">Counts</text>
<text class="xt" text-anchor="end" transform="translate(110.2,238.65) scale(0.75,1)">10</text>
<text class="sup" transform="translate(110.5,234.4) scale(0.9,1)">0</text>
<text class="xt" text-anchor="end" transform="translate(139.2,238.65) scale(0.75,1)">10</text>
<text class="sup" transform="translate(139.5,234.4) scale(0.9,1)">1</text>
<text class="xt" text-anchor="end" transform="translate(168.2,238.65) scale(0.75,1)">10</text>
<text class="sup" transform="translate(168.5,234.4) scale(0.9,1)">2</text>
<text class="xt" text-anchor="end" transform="translate(197.2,238.65) scale(0.75,1)">10</text>
<text class="sup" transform="translate(197.5,234.4) scale(0.9,1)">3</text>
<text class="xt" text-anchor="end" transform="translate(226.2,238.65) scale(0.75,1)">10</text>
<text class="sup" transform="translate(226.5,234.4) scale(0.9,1)">4</text>
<text class="xl" text-anchor="middle" transform="translate(166.5,245.7) scale(0.87,1)">FL2-H</text>
</g>
<g id="p11">
<clipPath id="c11"><rect x="253.5" y="148.5" width="116.5" height="77"/></clipPath>
<g clip-path="url(#c11)">
<path d="M253.0,225.5 L253.9,225.5 L254.8,225.5 L255.7,225.5 L256.6,225.5 L257.5,225.5 L258.4,225.5 L259.3,225.5 L260.2,225.5 L261.1,225.5 L262.0,225.5 L262.9,225.5 L263.8,225.5 L264.7,225.5 L265.6,225.5 L266.5,225.5 L267.4,225.5 L268.3,225.5 L269.2,225.5 L270.1,225.5 L271.0,225.5 L271.9,225.5 L272.8,225.5 L273.7,225.5 L274.6,225.5 L275.5,225.5 L276.4,225.5 L277.3,225.5 L278.2,225.5 L279.1,225.5 L280.0,225.5 L280.9,225.5 L281.8,225.5 L282.7,225.5 L283.6,225.5 L284.5,225.5 L285.4,225.5 L286.3,225.5 L287.2,225.5 L288.1,225.5 L289.0,225.5 L289.9,225.5 L290.8,225.5 L291.7,225.5 L292.6,225.5 L293.5,225.5 L294.4,225.5 L295.3,225.5 L296.2,225.5 L297.1,225.5 L298.0,225.5 L298.9,225.5 L299.8,225.4 L300.7,225.1 L301.6,224.9 L302.5,224.2 L303.4,224.2 L304.3,223.8 L305.2,222.6 L306.1,222.4 L307.0,221.4 L307.9,220.9 L308.8,219.5 L309.7,218.8 L310.6,217.9 L311.5,216.1 L312.4,215.6 L313.3,213.8 L314.2,212.6 L315.1,210.1 L316.0,209.2 L316.9,206.4 L317.8,202.8 L318.7,199.7 L319.6,196.5 L320.5,192.9 L321.4,186.9 L322.3,187.6 L323.2,185.6 L324.1,183.3 L325.0,180.6 L325.9,180.8 L326.8,177.1 L327.7,182.1 L328.6,185.9 L329.5,184.9 L330.4,189.0 L331.3,192.8 L332.2,198.5 L333.1,203.2 L334.0,206.8 L334.9,207.1 L335.8,210.6 L336.7,213.4 L337.6,215.6 L338.5,216.4 L339.4,217.1 L340.3,218.5 L341.2,219.2 L342.1,219.9 L343.0,220.1 L343.9,220.7 L344.8,220.9 L345.7,220.9 L346.6,221.1 L347.5,221.3 L348.4,222.3 L349.3,223.4 L350.2,223.4 L351.1,223.5 L352.0,224.4 L352.9,224.5 L353.8,225.0 L354.7,224.8 L355.6,224.8 L356.5,224.8 L357.4,225.2 L358.3,225.4 L359.2,225.1 L360.1,225.2 L361.0,225.3 L361.9,225.3 L362.8,225.4 L363.7,225.4 L364.6,225.5 L365.5,225.5 L366.4,225.5 L367.3,225.5 L368.2,225.5 L369.1,225.5 L370.0,225.5 L370.0,226.5 L253.0,226.5Z" fill="#e3e3e3"/>
<path d="M253.0,225.5 L253.9,225.5 L254.8,225.5 L255.7,225.5 L256.6,225.5 L257.5,225.5 L258.4,225.5 L259.3,225.5 L260.2,225.5 L261.1,225.5 L262.0,225.5 L262.9,225.5 L263.8,225.5 L264.7,225.5 L265.6,225.5 L266.5,225.5 L267.4,225.5 L268.3,225.5 L269.2,225.5 L270.1,225.5 L271.0,225.5 L271.9,225.5 L272.8,225.5 L273.7,225.5 L274.6,225.5 L275.5,225.5 L276.4,225.5 L277.3,225.5 L278.2,225.5 L279.1,225.5 L280.0,225.5 L280.9,225.5 L281.8,225.5 L282.7,225.5 L283.6,225.5 L284.5,225.5 L285.4,225.5 L286.3,225.5 L287.2,225.5 L288.1,225.5 L289.0,225.5 L289.9,225.5 L290.8,225.5 L291.7,225.5 L292.6,225.5 L293.5,225.5 L294.4,225.5 L295.3,225.5 L296.2,225.5 L297.1,225.5 L298.0,225.5 L298.9,225.5 L299.8,225.4 L300.7,225.1 L301.6,224.9 L302.5,224.2 L303.4,224.2 L304.3,223.8 L305.2,222.6 L306.1,222.4 L307.0,221.4 L307.9,220.9 L308.8,219.5 L309.7,218.8 L310.6,217.9 L311.5,216.1 L312.4,215.6 L313.3,213.8 L314.2,212.6 L315.1,210.1 L316.0,209.2 L316.9,206.4 L317.8,202.8 L318.7,199.7 L319.6,196.5 L320.5,192.9 L321.4,186.9 L322.3,187.6 L323.2,185.6 L324.1,183.3 L325.0,180.6 L325.9,180.8 L326.8,177.1 L327.7,182.1 L328.6,185.9 L329.5,184.9 L330.4,189.0 L331.3,192.8 L332.2,198.5 L333.1,203.2 L334.0,206.8 L334.9,207.1 L335.8,210.6 L336.7,213.4 L337.6,215.6 L338.5,216.4 L339.4,217.1 L340.3,218.5 L341.2,219.2 L342.1,219.9 L343.0,220.1 L343.9,220.7 L344.8,220.9 L345.7,220.9 L346.6,221.1 L347.5,221.3 L348.4,222.3 L349.3,223.4 L350.2,223.4 L351.1,223.5 L352.0,224.4 L352.9,224.5 L353.8,225.0 L354.7,224.8 L355.6,224.8 L356.5,224.8 L357.4,225.2 L358.3,225.4 L359.2,225.1 L360.1,225.2 L361.0,225.3 L361.9,225.3 L362.8,225.4 L363.7,225.4 L364.6,225.5 L365.5,225.5 L366.4,225.5 L367.3,225.5 L368.2,225.5 L369.1,225.5 L370.0,225.5" fill="none" stroke="#0c0c0c" stroke-width="1.45" stroke-linejoin="round"/>
<path d="M275.1,225.3 L276.1,224.5 L277.1,223.3 L278.1,221.4 L279.1,219.6 L280.1,217.6 L281.1,213.6 L282.1,209.7 L283.1,204.3 L284.1,199.2 L285.1,194.9 L286.1,189.5 L287.1,185.7 L288.1,183.9 L289.1,181.7 L290.1,181.1 L291.1,178.6 L292.1,178.5 L293.1,175.7 L294.1,178.2 L295.1,181.2 L296.1,185.4 L297.1,188.0 L298.1,193.0 L299.1,195.4 L300.1,200.0 L301.1,203.1 L302.1,206.9 L303.1,209.7 L304.1,211.6 L305.1,213.7 L306.1,215.5 L307.1,216.6 L308.1,218.0 L309.1,218.9 L310.1,219.3 L311.1,219.7 L312.1,220.7 L313.1,221.4 L314.1,221.4 L315.1,221.7 L316.1,222.1 L317.1,222.7 L318.1,223.3 L319.1,223.2 L320.1,223.9 L321.1,224.0 L322.1,224.2 L323.1,224.7 L324.1,224.8 L325.1,224.9 L326.1,225.1 L327.1,225.2 L328.1,225.3 L328.4,225.3" fill="none" stroke="#1a1a1a" stroke-width="1.35" stroke-dasharray="1.4 1.9"/>
</g>
<path d="M253.5,148.5 H370 V225.5" fill="none" stroke="#2a2a2a" stroke-width="1.4"/>
<path d="M253.5,148 V225.5 H370.5" fill="none" stroke="#000" stroke-width="1.8"/>
<path d="M253.5,225.5 h-4.2 M253.5,221.65 h-2.4 M253.5,217.8 h-2.4 M253.5,213.95 h-2.4 M253.5,210.1 h-4.2 M253.5,206.25 h-2.4 M253.5,202.4 h-2.4 M253.5,198.55 h-2.4 M253.5,194.7 h-4.2 M253.5,190.85 h-2.4 M253.5,187 h-2.4 M253.5,183.15 h-2.4 M253.5,179.3 h-4.2 M253.5,175.45 h-2.4 M253.5,171.6 h-2.4 M253.5,167.75 h-2.4 M253.5,163.9 h-4.2 M253.5,160.05 h-2.4 M253.5,156.2 h-2.4 M253.5,152.35 h-2.4 M253.5,148.5 h-4.2" stroke="#000" stroke-width="1.2" fill="none"/>
<path d="M253.5,225.5 v3.8 M262.27,225.5 v2.7 M267.4,225.5 v2.7 M271.03,225.5 v2.7 M273.86,225.5 v2.7 M276.16,225.5 v2.7 M278.11,225.5 v2.7 M279.8,225.5 v2.7 M281.29,225.5 v2.7 M282.62,225.5 v3.8 M291.39,225.5 v2.7 M296.52,225.5 v2.7 M300.16,225.5 v2.7 M302.98,225.5 v2.7 M305.29,225.5 v2.7 M307.24,225.5 v2.7 M308.93,225.5 v2.7 M310.42,225.5 v2.7 M311.75,225.5 v3.8 M320.52,225.5 v2.7 M325.65,225.5 v2.7 M329.28,225.5 v2.7 M332.11,225.5 v2.7 M334.41,225.5 v2.7 M336.36,225.5 v2.7 M338.05,225.5 v2.7 M339.54,225.5 v2.7 M340.88,225.5 v3.8 M349.64,225.5 v2.7 M354.77,225.5 v2.7 M358.41,225.5 v2.7 M361.23,225.5 v2.7 M363.54,225.5 v2.7 M365.49,225.5 v2.7 M367.18,225.5 v2.7 M368.67,225.5 v2.7 M370,225.5 v3.8" stroke="#000" stroke-width="1.2" fill="none"/>
<text class="yt" text-anchor="middle" transform="translate(246.55,225) rotate(-90) scale(1.08,1)">0</text>
<text class="yt" text-anchor="middle" transform="translate(246.55,210.4) rotate(-90) scale(1.08,1)">40</text>
<text class="yt" text-anchor="middle" transform="translate(246.55,195) rotate(-90) scale(1.08,1)">80</text>
<text class="yt" text-anchor="middle" transform="translate(246.55,178.8) rotate(-90) scale(1.08,1)">120</text>
<text class="yt" text-anchor="middle" transform="translate(246.55,163.4) rotate(-90) scale(1.08,1)">160</text>
<text class="yt" text-anchor="middle" transform="translate(246.55,148.8) rotate(-90) scale(1.08,1)">200</text>
<text class="ax" text-anchor="middle" transform="translate(238.1,188.4) rotate(-90) scale(0.84,1)">Counts</text>
<text class="xt" text-anchor="end" transform="translate(254.7,238.65) scale(0.75,1)">10</text>
<text class="sup" transform="translate(255,234.4) scale(0.9,1)">0</text>
<text class="xt" text-anchor="end" transform="translate(283.82,238.65) scale(0.75,1)">10</text>
<text class="sup" transform="translate(284.12,234.4) scale(0.9,1)">1</text>
<text class="xt" text-anchor="end" transform="translate(312.95,238.65) scale(0.75,1)">10</text>
<text class="sup" transform="translate(313.25,234.4) scale(0.9,1)">2</text>
<text class="xt" text-anchor="end" transform="translate(342.07,238.65) scale(0.75,1)">10</text>
<text class="sup" transform="translate(342.38,234.4) scale(0.9,1)">3</text>
<text class="xt" text-anchor="end" transform="translate(371.2,238.65) scale(0.75,1)">10</text>
<text class="sup" transform="translate(371.5,234.4) scale(0.9,1)">4</text>
<text class="xl" text-anchor="middle" transform="translate(311.25,245.7) scale(0.87,1)">FL1-H</text>
</g>
<g id="p12">
<clipPath id="c12"><rect x="398.5" y="148.5" width="115.5" height="77"/></clipPath>
<g clip-path="url(#c12)">
<path d="M398.0,225.3 L398.9,225.4 L399.8,225.4 L400.7,225.4 L401.6,225.5 L402.5,225.2 L403.4,225.3 L404.3,225.2 L405.2,225.3 L406.1,225.4 L407.0,225.3 L407.9,225.4 L408.8,225.2 L409.7,225.3 L410.6,225.2 L411.5,225.5 L412.4,225.4 L413.3,225.4 L414.2,225.3 L415.1,225.4 L416.0,225.4 L416.9,225.3 L417.8,225.3 L418.7,225.3 L419.6,225.2 L420.5,225.2 L421.4,225.3 L422.3,225.2 L423.2,225.4 L424.1,225.1 L425.0,225.4 L425.9,225.2 L426.8,225.2 L427.7,225.1 L428.6,225.3 L429.5,225.2 L430.4,225.3 L431.3,225.2 L432.2,225.3 L433.1,225.4 L434.0,225.3 L434.9,225.2 L435.8,225.3 L436.7,225.2 L437.6,225.3 L438.5,225.3 L439.4,225.2 L440.3,225.0 L441.2,225.2 L442.1,225.3 L443.0,225.1 L443.9,225.2 L444.8,225.3 L445.7,225.1 L446.6,225.3 L447.5,225.4 L448.4,225.3 L449.3,225.3 L450.2,225.3 L451.1,225.4 L452.0,225.0 L452.9,224.9 L453.8,224.8 L454.7,224.2 L455.6,223.8 L456.5,223.7 L457.4,223.7 L458.3,223.5 L459.2,222.4 L460.1,221.7 L461.0,221.8 L461.9,221.2 L462.8,220.6 L463.7,220.2 L464.6,219.7 L465.5,218.2 L466.4,217.4 L467.3,215.0 L468.2,213.4 L469.1,212.5 L470.0,209.9 L470.9,205.7 L471.8,201.2 L472.7,197.0 L473.6,192.8 L474.5,191.4 L475.4,192.8 L476.3,189.5 L477.2,187.7 L478.1,183.6 L479.0,185.9 L479.9,181.4 L480.8,180.0 L481.7,181.9 L482.6,184.6 L483.5,180.8 L484.4,182.1 L485.3,179.4 L486.2,180.2 L487.1,184.3 L488.0,180.4 L488.9,180.5 L489.8,182.7 L490.7,184.3 L491.6,187.7 L492.5,191.2 L493.4,195.0 L494.3,200.1 L495.2,203.5 L496.1,207.7 L497.0,212.0 L497.9,216.2 L498.8,216.7 L499.7,219.0 L500.6,219.2 L501.5,221.3 L502.4,221.4 L503.3,222.0 L504.2,221.7 L505.1,221.6 L506.0,222.6 L506.9,222.9 L507.8,222.6 L508.7,222.6 L509.6,223.5 L510.5,223.5 L511.4,224.4 L512.3,223.6 L513.2,223.8 L514.0,224.0 L514.0,226.5 L398.0,226.5Z" fill="#000"/>
<path d="M398.0,225.3 L398.9,225.4 L399.8,225.4 L400.7,225.4 L401.6,225.5 L402.5,225.2 L403.4,225.3 L404.3,225.2 L405.2,225.3 L406.1,225.4 L407.0,225.3 L407.9,225.4 L408.8,225.2 L409.7,225.3 L410.6,225.2 L411.5,225.5 L412.4,225.4 L413.3,225.4 L414.2,225.3 L415.1,225.4 L416.0,225.4 L416.9,225.3 L417.8,225.3 L418.7,225.3 L419.6,225.2 L420.5,225.2 L421.4,225.3 L422.3,225.2 L423.2,225.4 L424.1,225.1 L425.0,225.4 L425.9,225.2 L426.8,225.2 L427.7,225.1 L428.6,225.3 L429.5,225.2 L430.4,225.3 L431.3,225.2 L432.2,225.3 L433.1,225.4 L434.0,225.3 L434.9,225.2 L435.8,225.3 L436.7,225.2 L437.6,225.3 L438.5,225.3 L439.4,225.2 L440.3,225.0 L441.2,225.2 L442.1,225.3 L443.0,225.1 L443.9,225.2 L444.8,225.3 L445.7,225.1 L446.6,225.3 L447.5,225.4 L448.4,225.3 L449.3,225.3 L450.2,225.3 L451.1,225.4 L452.0,225.0 L452.9,224.9 L453.8,224.8 L454.7,224.2 L455.6,223.8 L456.5,223.7 L457.4,223.7 L458.3,223.5 L459.2,222.4 L460.1,221.7 L461.0,221.8 L461.9,221.2 L462.8,220.6 L463.7,220.2 L464.6,219.7 L465.5,218.2 L466.4,217.4 L467.3,215.0 L468.2,213.4 L469.1,212.5 L470.0,209.9 L470.9,205.7 L471.8,201.2 L472.7,197.0 L473.6,192.8 L474.5,191.4 L475.4,192.8 L476.3,189.5 L477.2,187.7 L478.1,183.6 L479.0,185.9 L479.9,181.4 L480.8,180.0 L481.7,181.9 L482.6,184.6 L483.5,180.8 L484.4,182.1 L485.3,179.4 L486.2,180.2 L487.1,184.3 L488.0,180.4 L488.9,180.5 L489.8,182.7 L490.7,184.3 L491.6,187.7 L492.5,191.2 L493.4,195.0 L494.3,200.1 L495.2,203.5 L496.1,207.7 L497.0,212.0 L497.9,216.2 L498.8,216.7 L499.7,219.0 L500.6,219.2 L501.5,221.3 L502.4,221.4 L503.3,222.0 L504.2,221.7 L505.1,221.6 L506.0,222.6 L506.9,222.9 L507.8,222.6 L508.7,222.6 L509.6,223.5 L510.5,223.5 L511.4,224.4 L512.3,223.6 L513.2,223.8 L514.0,224.0" fill="none" stroke="#000" stroke-width="0.9" stroke-linejoin="round"/>
<path d="M398.7,224.1 L399.7,223.4 L400.7,222.2 L401.7,221.3 L402.7,220.0 L403.7,219.6 L404.7,217.6 L405.7,216.6 L406.7,215.1 L407.7,214.5 L408.7,212.3 L409.7,210.0 L410.7,208.3 L411.7,205.9 L412.7,203.4 L413.7,201.3 L414.7,197.9 L415.7,196.3 L416.7,192.2 L417.7,191.1 L418.7,189.6 L419.7,187.5 L420.7,186.2 L421.7,182.6 L422.7,180.7 L423.7,177.7 L424.7,178.0 L425.7,173.9 L426.7,175.4 L427.7,175.9 L428.7,179.5 L429.7,181.6 L430.7,186.6 L431.7,191.1 L432.7,194.3 L433.7,198.6 L434.7,202.4 L435.7,205.1 L436.7,207.7 L437.7,210.4 L438.7,213.2 L439.7,214.3 L440.7,216.7 L441.7,217.5 L442.7,219.1 L443.7,220.6 L444.7,221.7 L445.7,222.4 L446.7,223.2 L447.7,223.4 L448.7,223.9 L449.7,224.4 L450.7,224.7 L451.7,224.9 L452.7,224.9 L453.7,225.2 L453.8,225.2" fill="none" stroke="#1a1a1a" stroke-width="1.35" stroke-dasharray="1.4 1.9"/>
</g>
<path d="M398.5,148.5 H514 V225.5" fill="none" stroke="#2a2a2a" stroke-width="1.4"/>
<path d="M398.5,148 V225.5 H514.5" fill="none" stroke="#000" stroke-width="1.8"/>
<path d="M398.5,225.5 h-4.2 M398.5,221.65 h-2.4 M398.5,217.8 h-2.4 M398.5,213.95 h-2.4 M398.5,210.1 h-4.2 M398.5,206.25 h-2.4 M398.5,202.4 h-2.4 M398.5,198.55 h-2.4 M398.5,194.7 h-4.2 M398.5,190.85 h-2.4 M398.5,187 h-2.4 M398.5,183.15 h-2.4 M398.5,179.3 h-4.2 M398.5,175.45 h-2.4 M398.5,171.6 h-2.4 M398.5,167.75 h-2.4 M398.5,163.9 h-4.2 M398.5,160.05 h-2.4 M398.5,156.2 h-2.4 M398.5,152.35 h-2.4 M398.5,148.5 h-4.2" stroke="#000" stroke-width="1.2" fill="none"/>
<path d="M398.5,225.5 v3.8 M407.19,225.5 v2.7 M412.28,225.5 v2.7 M415.88,225.5 v2.7 M418.68,225.5 v2.7 M420.97,225.5 v2.7 M422.9,225.5 v2.7 M424.58,225.5 v2.7 M426.05,225.5 v2.7 M427.38,225.5 v3.8 M436.07,225.5 v2.7 M441.15,225.5 v2.7 M444.76,225.5 v2.7 M447.56,225.5 v2.7 M449.84,225.5 v2.7 M451.78,225.5 v2.7 M453.45,225.5 v2.7 M454.93,225.5 v2.7 M456.25,225.5 v3.8 M464.94,225.5 v2.7 M470.03,225.5 v2.7 M473.63,225.5 v2.7 M476.43,225.5 v2.7 M478.72,225.5 v2.7 M480.65,225.5 v2.7 M482.33,225.5 v2.7 M483.8,225.5 v2.7 M485.12,225.5 v3.8 M493.82,225.5 v2.7 M498.9,225.5 v2.7 M502.51,225.5 v2.7 M505.31,225.5 v2.7 M507.59,225.5 v2.7 M509.53,225.5 v2.7 M511.2,225.5 v2.7 M512.68,225.5 v2.7 M514,225.5 v3.8" stroke="#000" stroke-width="1.2" fill="none"/>
<text class="yt" text-anchor="middle" transform="translate(391.55,225) rotate(-90) scale(1.08,1)">0</text>
<text class="yt" text-anchor="middle" transform="translate(391.55,210.4) rotate(-90) scale(1.08,1)">40</text>
<text class="yt" text-anchor="middle" transform="translate(391.55,195) rotate(-90) scale(1.08,1)">80</text>
<text class="yt" text-anchor="middle" transform="translate(391.55,178.8) rotate(-90) scale(1.08,1)">120</text>
<text class="yt" text-anchor="middle" transform="translate(391.55,163.4) rotate(-90) scale(1.08,1)">160</text>
<text class="yt" text-anchor="middle" transform="translate(391.55,148.8) rotate(-90) scale(1.08,1)">200</text>
<text class="ax" text-anchor="middle" transform="translate(383.1,188.4) rotate(-90) scale(0.84,1)">Counts</text>
<text class="xt" text-anchor="end" transform="translate(399.7,238.65) scale(0.75,1)">10</text>
<text class="sup" transform="translate(400,234.4) scale(0.9,1)">0</text>
<text class="xt" text-anchor="end" transform="translate(428.57,238.65) scale(0.75,1)">10</text>
<text class="sup" transform="translate(428.88,234.4) scale(0.9,1)">1</text>
<text class="xt" text-anchor="end" transform="translate(457.45,238.65) scale(0.75,1)">10</text>
<text class="sup" transform="translate(457.75,234.4) scale(0.9,1)">2</text>
<text class="xt" text-anchor="end" transform="translate(486.32,238.65) scale(0.75,1)">10</text>
<text class="sup" transform="translate(486.62,234.4) scale(0.9,1)">3</text>
<text class="xt" text-anchor="end" transform="translate(515.2,238.65) scale(0.75,1)">10</text>
<text class="sup" transform="translate(515.5,234.4) scale(0.9,1)">4</text>
<text class="xl" text-anchor="middle" transform="translate(455.75,245.7) scale(0.87,1)">FL1-H</text>
</g>
<g id="p20">
<clipPath id="c20"><rect x="109" y="260.5" width="116" height="77"/></clipPath>
<g clip-path="url(#c20)">
<path d="M109.0,337.1 L109.9,337.3 L110.8,337.3 L111.7,337.1 L112.6,337.2 L113.5,337.0 L114.4,337.0 L115.3,337.0 L116.2,337.0 L117.1,337.2 L118.0,337.1 L118.9,337.1 L119.8,337.0 L120.7,336.9 L121.6,336.9 L122.5,336.9 L123.4,337.1 L124.3,337.0 L125.2,337.0 L126.1,337.0 L127.0,336.8 L127.9,337.2 L128.8,336.8 L129.7,337.0 L130.6,337.3 L131.5,336.6 L132.4,336.8 L133.3,336.9 L134.2,337.0 L135.1,336.7 L136.0,336.9 L136.9,336.9 L137.8,336.9 L138.7,336.5 L139.6,337.0 L140.5,337.1 L141.4,336.9 L142.3,336.7 L143.2,336.7 L144.1,336.4 L145.0,336.9 L145.9,337.0 L146.8,336.9 L147.7,336.2 L148.6,336.7 L149.5,336.7 L150.4,336.6 L151.3,336.9 L152.2,336.4 L153.1,336.5 L154.0,336.8 L154.9,336.8 L155.8,336.7 L156.7,336.8 L157.6,336.7 L158.5,336.4 L159.4,336.8 L160.3,336.5 L161.2,336.2 L162.1,336.6 L163.0,336.9 L163.9,336.7 L164.8,336.6 L165.7,336.5 L166.6,335.9 L167.5,336.5 L168.4,336.3 L169.3,335.7 L170.2,336.1 L171.1,336.0 L172.0,336.3 L172.9,336.1 L173.8,336.0 L174.7,335.9 L175.6,335.5 L176.5,335.0 L177.4,334.8 L178.3,333.7 L179.2,333.1 L180.1,332.8 L181.0,332.5 L181.9,332.9 L182.8,332.4 L183.7,331.2 L184.6,329.1 L185.5,327.1 L186.4,326.5 L187.3,326.1 L188.2,325.6 L189.1,323.5 L190.0,323.2 L190.9,322.5 L191.8,322.4 L192.7,319.2 L193.6,318.3 L194.5,314.7 L195.4,311.0 L196.3,307.6 L197.2,308.0 L198.1,306.0 L199.0,305.2 L199.9,298.7 L200.8,297.5 L201.7,294.8 L202.6,290.4 L203.5,294.0 L204.4,295.3 L205.3,296.8 L206.2,303.6 L207.1,304.1 L208.0,308.2 L208.9,310.5 L209.8,313.6 L210.7,317.3 L211.6,321.0 L212.5,322.4 L213.4,324.2 L214.3,328.9 L215.2,329.7 L216.1,330.2 L217.0,331.7 L217.9,331.7 L218.8,332.8 L219.7,333.5 L220.6,332.8 L221.5,334.8 L222.4,335.7 L223.3,336.0 L224.2,336.6 L225.0,336.8 L225.0,338.5 L109.0,338.5Z" fill="#888888"/>
<path d="M109.0,337.1 L109.9,337.3 L110.8,337.3 L111.7,337.1 L112.6,337.2 L113.5,337.0 L114.4,337.0 L115.3,337.0 L116.2,337.0 L117.1,337.2 L118.0,337.1 L118.9,337.1 L119.8,337.0 L120.7,336.9 L121.6,336.9 L122.5,336.9 L123.4,337.1 L124.3,337.0 L125.2,337.0 L126.1,337.0 L127.0,336.8 L127.9,337.2 L128.8,336.8 L129.7,337.0 L130.6,337.3 L131.5,336.6 L132.4,336.8 L133.3,336.9 L134.2,337.0 L135.1,336.7 L136.0,336.9 L136.9,336.9 L137.8,336.9 L138.7,336.5 L139.6,337.0 L140.5,337.1 L141.4,336.9 L142.3,336.7 L143.2,336.7 L144.1,336.4 L145.0,336.9 L145.9,337.0 L146.8,336.9 L147.7,336.2 L148.6,336.7 L149.5,336.7 L150.4,336.6 L151.3,336.9 L152.2,336.4 L153.1,336.5 L154.0,336.8 L154.9,336.8 L155.8,336.7 L156.7,336.8 L157.6,336.7 L158.5,336.4 L159.4,336.8 L160.3,336.5 L161.2,336.2 L162.1,336.6 L163.0,336.9 L163.9,336.7 L164.8,336.6 L165.7,336.5 L166.6,335.9 L167.5,336.5 L168.4,336.3 L169.3,335.7 L170.2,336.1 L171.1,336.0 L172.0,336.3 L172.9,336.1 L173.8,336.0 L174.7,335.9 L175.6,335.5 L176.5,335.0 L177.4,334.8 L178.3,333.7 L179.2,333.1 L180.1,332.8 L181.0,332.5 L181.9,332.9 L182.8,332.4 L183.7,331.2 L184.6,329.1 L185.5,327.1 L186.4,326.5 L187.3,326.1 L188.2,325.6 L189.1,323.5 L190.0,323.2 L190.9,322.5 L191.8,322.4 L192.7,319.2 L193.6,318.3 L194.5,314.7 L195.4,311.0 L196.3,307.6 L197.2,308.0 L198.1,306.0 L199.0,305.2 L199.9,298.7 L200.8,297.5 L201.7,294.8 L202.6,290.4 L203.5,294.0 L204.4,295.3 L205.3,296.8 L206.2,303.6 L207.1,304.1 L208.0,308.2 L208.9,310.5 L209.8,313.6 L210.7,317.3 L211.6,321.0 L212.5,322.4 L213.4,324.2 L214.3,328.9 L215.2,329.7 L216.1,330.2 L217.0,331.7 L217.9,331.7 L218.8,332.8 L219.7,333.5 L220.6,332.8 L221.5,334.8 L222.4,335.7 L223.3,336.0 L224.2,336.6 L225.0,336.8" fill="none" stroke="#0c0c0c" stroke-width="1.4" stroke-linejoin="round"/>
<path d="M115.2,337.1 L116.2,336.0 L117.2,334.4 L118.2,332.6 L119.2,331.4 L120.2,328.6 L121.2,326.5 L122.2,324.5 L123.2,320.1 L124.2,316.3 L125.2,311.5 L126.2,307.9 L127.2,303.1 L128.2,298.4 L129.2,294.6 L130.2,291.8 L131.2,287.0 L132.2,283.9 L133.2,277.9 L134.2,279.0 L135.2,281.9 L136.2,288.3 L137.2,295.6 L138.2,302.2 L139.2,308.0 L140.2,314.6 L141.2,319.8 L142.2,324.1 L143.2,327.4 L144.2,329.1 L145.2,331.2 L146.2,332.1 L147.2,333.4 L148.2,334.2 L149.2,335.0 L150.2,335.8 L151.2,336.4 L151.8,336.6" fill="none" stroke="#1a1a1a" stroke-width="1.35" stroke-dasharray="1.4 1.9"/>
</g>
<path d="M109,260.5 H225 V337.5" fill="none" stroke="#2a2a2a" stroke-width="1.4"/>
<path d="M109,260 V337.5 H225.5" fill="none" stroke="#000" stroke-width="1.8"/>
<path d="M109,337.5 h-4.2 M109,333.65 h-2.4 M109,329.8 h-2.4 M109,325.95 h-2.4 M109,322.1 h-4.2 M109,318.25 h-2.4 M109,314.4 h-2.4 M109,310.55 h-2.4 M109,306.7 h-4.2 M109,302.85 h-2.4 M109,299 h-2.4 M109,295.15 h-2.4 M109,291.3 h-4.2 M109,287.45 h-2.4 M109,283.6 h-2.4 M109,279.75 h-2.4 M109,275.9 h-4.2 M109,272.05 h-2.4 M109,268.2 h-2.4 M109,264.35 h-2.4 M109,260.5 h-4.2" stroke="#000" stroke-width="1.2" fill="none"/>
<path d="M109,337.5 v3.8 M117.73,337.5 v2.7 M122.84,337.5 v2.7 M126.46,337.5 v2.7 M129.27,337.5 v2.7 M131.57,337.5 v2.7 M133.51,337.5 v2.7 M135.19,337.5 v2.7 M136.67,337.5 v2.7 M138,337.5 v3.8 M146.73,337.5 v2.7 M151.84,337.5 v2.7 M155.46,337.5 v2.7 M158.27,337.5 v2.7 M160.57,337.5 v2.7 M162.51,337.5 v2.7 M164.19,337.5 v2.7 M165.67,337.5 v2.7 M167,337.5 v3.8 M175.73,337.5 v2.7 M180.84,337.5 v2.7 M184.46,337.5 v2.7 M187.27,337.5 v2.7 M189.57,337.5 v2.7 M191.51,337.5 v2.7 M193.19,337.5 v2.7 M194.67,337.5 v2.7 M196,337.5 v3.8 M204.73,337.5 v2.7 M209.84,337.5 v2.7 M213.46,337.5 v2.7 M216.27,337.5 v2.7 M218.57,337.5 v2.7 M220.51,337.5 v2.7 M222.19,337.5 v2.7 M223.67,337.5 v2.7 M225,337.5 v3.8" stroke="#000" stroke-width="1.2" fill="none"/>
<text class="yt" text-anchor="middle" transform="translate(102.05,337) rotate(-90) scale(1.08,1)">0</text>
<text class="yt" text-anchor="middle" transform="translate(102.05,322.4) rotate(-90) scale(1.08,1)">40</text>
<text class="yt" text-anchor="middle" transform="translate(102.05,307) rotate(-90) scale(1.08,1)">80</text>
<text class="yt" text-anchor="middle" transform="translate(102.05,290.8) rotate(-90) scale(1.08,1)">120</text>
<text class="yt" text-anchor="middle" transform="translate(102.05,275.4) rotate(-90) scale(1.08,1)">160</text>
<text class="yt" text-anchor="middle" transform="translate(102.05,260.8) rotate(-90) scale(1.08,1)">200</text>
<text class="ax" text-anchor="middle" transform="translate(93.6,300.4) rotate(-90) scale(0.84,1)">Counts</text>
<text class="xt" text-anchor="end" transform="translate(110.2,350.65) scale(0.75,1)">10</text>
<text class="sup" transform="translate(110.5,346.4) scale(0.9,1)">0</text>
<text class="xt" text-anchor="end" transform="translate(139.2,350.65) scale(0.75,1)">10</text>
<text class="sup" transform="translate(139.5,346.4) scale(0.9,1)">1</text>
<text class="xt" text-anchor="end" transform="translate(168.2,350.65) scale(0.75,1)">10</text>
<text class="sup" transform="translate(168.5,346.4) scale(0.9,1)">2</text>
<text class="xt" text-anchor="end" transform="translate(197.2,350.65) scale(0.75,1)">10</text>
<text class="sup" transform="translate(197.5,346.4) scale(0.9,1)">3</text>
<text class="xt" text-anchor="end" transform="translate(226.2,350.65) scale(0.75,1)">10</text>
<text class="sup" transform="translate(226.5,346.4) scale(0.9,1)">4</text>
<text class="xl" text-anchor="middle" transform="translate(166.5,357.7) scale(0.87,1)">FL2-H</text>
</g>
<g id="p21">
<clipPath id="c21"><rect x="253.5" y="260.5" width="116.5" height="77"/></clipPath>
<g clip-path="url(#c21)">
<path d="M253.0,336.9 L253.9,337.1 L254.8,336.6 L255.7,337.1 L256.6,336.8 L257.5,336.7 L258.4,336.7 L259.3,336.6 L260.2,336.7 L261.1,336.8 L262.0,336.8 L262.9,336.8 L263.8,336.3 L264.7,336.3 L265.6,336.8 L266.5,336.7 L267.4,336.8 L268.3,336.6 L269.2,336.2 L270.1,336.5 L271.0,336.4 L271.9,336.2 L272.8,336.0 L273.7,336.1 L274.6,336.0 L275.5,336.2 L276.4,335.9 L277.3,336.2 L278.2,335.6 L279.1,335.8 L280.0,335.7 L280.9,335.3 L281.8,335.1 L282.7,335.5 L283.6,335.3 L284.5,335.1 L285.4,335.1 L286.3,334.7 L287.2,334.9 L288.1,334.5 L289.0,334.7 L289.9,334.8 L290.8,334.3 L291.7,334.6 L292.6,333.9 L293.5,334.1 L294.4,333.6 L295.3,333.9 L296.2,333.9 L297.1,333.7 L298.0,333.6 L298.9,334.1 L299.8,334.1 L300.7,333.2 L301.6,333.9 L302.5,332.9 L303.4,333.2 L304.3,333.3 L305.2,333.4 L306.1,332.9 L307.0,333.0 L307.9,333.2 L308.8,332.8 L309.7,332.8 L310.6,333.2 L311.5,333.2 L312.4,332.8 L313.3,332.7 L314.2,332.6 L315.1,332.3 L316.0,332.2 L316.9,331.8 L317.8,332.3 L318.7,331.8 L319.6,331.3 L320.5,330.8 L321.4,330.2 L322.3,329.8 L323.2,327.8 L324.1,325.9 L325.0,324.2 L325.9,321.4 L326.8,320.5 L327.7,317.9 L328.6,315.1 L329.5,311.6 L330.4,309.2 L331.3,306.3 L332.2,302.9 L333.1,299.4 L334.0,295.3 L334.9,295.8 L335.8,292.2 L336.7,289.2 L337.6,288.5 L338.5,288.0 L339.4,288.5 L340.3,288.5 L341.2,285.5 L342.1,287.6 L343.0,284.7 L343.9,285.6 L344.8,285.0 L345.7,287.7 L346.6,286.3 L347.5,284.9 L348.4,287.2 L349.3,289.5 L350.2,290.9 L351.1,293.0 L352.0,292.3 L352.9,291.8 L353.8,294.7 L354.7,295.2 L355.6,296.9 L356.5,299.6 L357.4,304.2 L358.3,306.2 L359.2,310.8 L360.1,315.7 L361.0,319.5 L361.9,322.6 L362.8,325.8 L363.7,329.3 L364.6,332.0 L365.5,333.3 L366.4,334.6 L367.3,335.6 L368.2,335.6 L369.1,336.3 L370.0,336.8 L370.0,338.5 L253.0,338.5Z" fill="#e3e3e3"/>
<path d="M253.0,336.9 L253.9,337.1 L254.8,336.6 L255.7,337.1 L256.6,336.8 L257.5,336.7 L258.4,336.7 L259.3,336.6 L260.2,336.7 L261.1,336.8 L262.0,336.8 L262.9,336.8 L263.8,336.3 L264.7,336.3 L265.6,336.8 L266.5,336.7 L267.4,336.8 L268.3,336.6 L269.2,336.2 L270.1,336.5 L271.0,336.4 L271.9,336.2 L272.8,336.0 L273.7,336.1 L274.6,336.0 L275.5,336.2 L276.4,335.9 L277.3,336.2 L278.2,335.6 L279.1,335.8 L280.0,335.7 L280.9,335.3 L281.8,335.1 L282.7,335.5 L283.6,335.3 L284.5,335.1 L285.4,335.1 L286.3,334.7 L287.2,334.9 L288.1,334.5 L289.0,334.7 L289.9,334.8 L290.8,334.3 L291.7,334.6 L292.6,333.9 L293.5,334.1 L294.4,333.6 L295.3,333.9 L296.2,333.9 L297.1,333.7 L298.0,333.6 L298.9,334.1 L299.8,334.1 L300.7,333.2 L301.6,333.9 L302.5,332.9 L303.4,333.2 L304.3,333.3 L305.2,333.4 L306.1,332.9 L307.0,333.0 L307.9,333.2 L308.8,332.8 L309.7,332.8 L310.6,333.2 L311.5,333.2 L312.4,332.8 L313.3,332.7 L314.2,332.6 L315.1,332.3 L316.0,332.2 L316.9,331.8 L317.8,332.3 L318.7,331.8 L319.6,331.3 L320.5,330.8 L321.4,330.2 L322.3,329.8 L323.2,327.8 L324.1,325.9 L325.0,324.2 L325.9,321.4 L326.8,320.5 L327.7,317.9 L328.6,315.1 L329.5,311.6 L330.4,309.2 L331.3,306.3 L332.2,302.9 L333.1,299.4 L334.0,295.3 L334.9,295.8 L335.8,292.2 L336.7,289.2 L337.6,288.5 L338.5,288.0 L339.4,288.5 L340.3,288.5 L341.2,285.5 L342.1,287.6 L343.0,284.7 L343.9,285.6 L344.8,285.0 L345.7,287.7 L346.6,286.3 L347.5,284.9 L348.4,287.2 L349.3,289.5 L350.2,290.9 L351.1,293.0 L352.0,292.3 L352.9,291.8 L353.8,294.7 L354.7,295.2 L355.6,296.9 L356.5,299.6 L357.4,304.2 L358.3,306.2 L359.2,310.8 L360.1,315.7 L361.0,319.5 L361.9,322.6 L362.8,325.8 L363.7,329.3 L364.6,332.0 L365.5,333.3 L366.4,334.6 L367.3,335.6 L368.2,335.6 L369.1,336.3 L370.0,336.8" fill="none" stroke="#0c0c0c" stroke-width="1.45" stroke-linejoin="round"/>
<path d="M253.0,335.9 L254.0,335.8 L255.0,335.9 L256.0,335.6 L257.0,335.8 L258.0,335.6 L259.0,335.5 L260.0,335.2 L261.0,335.5 L262.0,334.9 L263.0,334.8 L264.0,334.8 L265.0,334.2 L266.0,334.1 L267.0,334.2 L268.0,333.6 L269.0,333.0 L270.0,332.9 L271.0,332.6 L272.0,331.4 L273.0,330.4 L274.0,328.1 L275.0,325.0 L276.0,321.1 L277.0,316.6 L278.0,311.0 L279.0,305.2 L280.0,299.5 L281.0,293.9 L282.0,286.6 L283.0,281.2 L284.0,275.3 L285.0,270.5 L286.0,266.7 L287.0,263.6 L288.0,261.1 L289.0,262.0 L290.0,263.9 L291.0,265.7 L292.0,266.8 L293.0,269.2 L294.0,274.7 L295.0,276.0 L296.0,281.5 L297.0,284.0 L298.0,287.8 L299.0,292.1 L300.0,297.9 L301.0,300.2 L302.0,305.4 L303.0,309.9 L304.0,314.6 L305.0,317.5 L306.0,322.6 L307.0,325.4 L308.0,328.9 L309.0,329.7 L310.0,330.8 L311.0,331.4 L312.0,332.1 L313.0,332.8 L314.0,332.9 L315.0,333.0 L316.0,333.1 L317.0,333.2 L318.0,334.0 L319.0,334.5 L320.0,334.4 L321.0,334.8 L321.6,334.6" fill="none" stroke="#1a1a1a" stroke-width="1.35" stroke-dasharray="1.4 1.9"/>
</g>
<path d="M253.5,260.5 H370 V337.5" fill="none" stroke="#2a2a2a" stroke-width="1.4"/>
<path d="M253.5,260 V337.5 H370.5" fill="none" stroke="#000" stroke-width="1.8"/>
<path d="M253.5,337.5 h-4.2 M253.5,333.65 h-2.4 M253.5,329.8 h-2.4 M253.5,325.95 h-2.4 M253.5,322.1 h-4.2 M253.5,318.25 h-2.4 M253.5,314.4 h-2.4 M253.5,310.55 h-2.4 M253.5,306.7 h-4.2 M253.5,302.85 h-2.4 M253.5,299 h-2.4 M253.5,295.15 h-2.4 M253.5,291.3 h-4.2 M253.5,287.45 h-2.4 M253.5,283.6 h-2.4 M253.5,279.75 h-2.4 M253.5,275.9 h-4.2 M253.5,272.05 h-2.4 M253.5,268.2 h-2.4 M253.5,264.35 h-2.4 M253.5,260.5 h-4.2" stroke="#000" stroke-width="1.2" fill="none"/>
<path d="M253.5,337.5 v3.8 M262.27,337.5 v2.7 M267.4,337.5 v2.7 M271.03,337.5 v2.7 M273.86,337.5 v2.7 M276.16,337.5 v2.7 M278.11,337.5 v2.7 M279.8,337.5 v2.7 M281.29,337.5 v2.7 M282.62,337.5 v3.8 M291.39,337.5 v2.7 M296.52,337.5 v2.7 M300.16,337.5 v2.7 M302.98,337.5 v2.7 M305.29,337.5 v2.7 M307.24,337.5 v2.7 M308.93,337.5 v2.7 M310.42,337.5 v2.7 M311.75,337.5 v3.8 M320.52,337.5 v2.7 M325.65,337.5 v2.7 M329.28,337.5 v2.7 M332.11,337.5 v2.7 M334.41,337.5 v2.7 M336.36,337.5 v2.7 M338.05,337.5 v2.7 M339.54,337.5 v2.7 M340.88,337.5 v3.8 M349.64,337.5 v2.7 M354.77,337.5 v2.7 M358.41,337.5 v2.7 M361.23,337.5 v2.7 M363.54,337.5 v2.7 M365.49,337.5 v2.7 M367.18,337.5 v2.7 M368.67,337.5 v2.7 M370,337.5 v3.8" stroke="#000" stroke-width="1.2" fill="none"/>
<text class="yt" text-anchor="middle" transform="translate(246.55,337) rotate(-90) scale(1.08,1)">0</text>
<text class="yt" text-anchor="middle" transform="translate(246.55,322.4) rotate(-90) scale(1.08,1)">40</text>
<text class="yt" text-anchor="middle" transform="translate(246.55,307) rotate(-90) scale(1.08,1)">80</text>
<text class="yt" text-anchor="middle" transform="translate(246.55,290.8) rotate(-90) scale(1.08,1)">120</text>
<text class="yt" text-anchor="middle" transform="translate(246.55,275.4) rotate(-90) scale(1.08,1)">160</text>
<text class="yt" text-anchor="middle" transform="translate(246.55,260.8) rotate(-90) scale(1.08,1)">200</text>
<text class="ax" text-anchor="middle" transform="translate(238.1,300.4) rotate(-90) scale(0.84,1)">Counts</text>
<text class="xt" text-anchor="end" transform="translate(254.7,350.65) scale(0.75,1)">10</text>
<text class="sup" transform="translate(255,346.4) scale(0.9,1)">0</text>
<text class="xt" text-anchor="end" transform="translate(283.82,350.65) scale(0.75,1)">10</text>
<text class="sup" transform="translate(284.12,346.4) scale(0.9,1)">1</text>
<text class="xt" text-anchor="end" transform="translate(312.95,350.65) scale(0.75,1)">10</text>
<text class="sup" transform="translate(313.25,346.4) scale(0.9,1)">2</text>
<text class="xt" text-anchor="end" transform="translate(342.07,350.65) scale(0.75,1)">10</text>
<text class="sup" transform="translate(342.38,346.4) scale(0.9,1)">3</text>
<text class="xt" text-anchor="end" transform="translate(371.2,350.65) scale(0.75,1)">10</text>
<text class="sup" transform="translate(371.5,346.4) scale(0.9,1)">4</text>
<text class="xl" text-anchor="middle" transform="translate(311.25,357.7) scale(0.87,1)">FL1-H</text>
</g>
<g id="p22">
<clipPath id="c22"><rect x="398.5" y="260.5" width="115.5" height="77"/></clipPath>
<g clip-path="url(#c22)">
<path d="M398.0,335.6 L398.9,335.7 L399.8,335.6 L400.7,335.8 L401.6,336.4 L402.5,335.6 L403.4,336.2 L404.3,336.3 L405.2,335.9 L406.1,335.8 L407.0,336.1 L407.9,336.3 L408.8,336.5 L409.7,336.2 L410.6,336.3 L411.5,335.8 L412.4,335.6 L413.3,335.4 L414.2,335.5 L415.1,335.7 L416.0,335.9 L416.9,335.5 L417.8,336.0 L418.7,335.8 L419.6,335.6 L420.5,335.6 L421.4,336.3 L422.3,335.8 L423.2,335.5 L424.1,335.4 L425.0,336.2 L425.9,335.5 L426.8,336.0 L427.7,336.1 L428.6,334.9 L429.5,336.0 L430.4,335.5 L431.3,335.2 L432.2,335.4 L433.1,335.7 L434.0,335.6 L434.9,335.6 L435.8,335.2 L436.7,335.7 L437.6,335.8 L438.5,335.8 L439.4,335.5 L440.3,335.7 L441.2,335.7 L442.1,335.2 L443.0,335.1 L443.9,334.3 L444.8,333.3 L445.7,332.5 L446.6,330.3 L447.5,330.2 L448.4,329.9 L449.3,327.3 L450.2,326.3 L451.1,327.1 L452.0,325.1 L452.9,326.1 L453.8,327.1 L454.7,325.6 L455.6,323.5 L456.5,321.9 L457.4,320.3 L458.3,318.5 L459.2,317.3 L460.1,316.3 L461.0,312.1 L461.9,311.3 L462.8,308.4 L463.7,306.9 L464.6,305.2 L465.5,302.8 L466.4,302.1 L467.3,299.7 L468.2,296.4 L469.1,299.3 L470.0,299.6 L470.9,299.1 L471.8,295.0 L472.7,289.1 L473.6,295.2 L474.5,297.1 L475.4,297.2 L476.3,302.7 L477.2,302.6 L478.1,306.5 L479.0,307.5 L479.9,309.0 L480.8,307.1 L481.7,309.0 L482.6,313.1 L483.5,316.8 L484.4,316.5 L485.3,320.8 L486.2,322.2 L487.1,322.8 L488.0,324.9 L488.9,326.1 L489.8,327.9 L490.7,329.7 L491.6,330.0 L492.5,331.9 L493.4,332.7 L494.3,333.2 L495.2,334.2 L496.1,333.9 L497.0,334.6 L497.9,335.5 L498.8,334.9 L499.7,335.1 L500.6,335.4 L501.5,335.8 L502.4,335.5 L503.3,335.7 L504.2,335.4 L505.1,335.7 L506.0,335.8 L506.9,335.8 L507.8,336.1 L508.7,336.4 L509.6,336.2 L510.5,336.1 L511.4,336.5 L512.3,336.5 L513.2,336.1 L514.0,336.5 L514.0,338.5 L398.0,338.5Z" fill="#000"/>
<path d="M398.0,335.6 L398.9,335.7 L399.8,335.6 L400.7,335.8 L401.6,336.4 L402.5,335.6 L403.4,336.2 L404.3,336.3 L405.2,335.9 L406.1,335.8 L407.0,336.1 L407.9,336.3 L408.8,336.5 L409.7,336.2 L410.6,336.3 L411.5,335.8 L412.4,335.6 L413.3,335.4 L414.2,335.5 L415.1,335.7 L416.0,335.9 L416.9,335.5 L417.8,336.0 L418.7,335.8 L419.6,335.6 L420.5,335.6 L421.4,336.3 L422.3,335.8 L423.2,335.5 L424.1,335.4 L425.0,336.2 L425.9,335.5 L426.8,336.0 L427.7,336.1 L428.6,334.9 L429.5,336.0 L430.4,335.5 L431.3,335.2 L432.2,335.4 L433.1,335.7 L434.0,335.6 L434.9,335.6 L435.8,335.2 L436.7,335.7 L437.6,335.8 L438.5,335.8 L439.4,335.5 L440.3,335.7 L441.2,335.7 L442.1,335.2 L443.0,335.1 L443.9,334.3 L444.8,333.3 L445.7,332.5 L446.6,330.3 L447.5,330.2 L448.4,329.9 L449.3,327.3 L450.2,326.3 L451.1,327.1 L452.0,325.1 L452.9,326.1 L453.8,327.1 L454.7,325.6 L455.6,323.5 L456.5,321.9 L457.4,320.3 L458.3,318.5 L459.2,317.3 L460.1,316.3 L461.0,312.1 L461.9,311.3 L462.8,308.4 L463.7,306.9 L464.6,305.2 L465.5,302.8 L466.4,302.1 L467.3,299.7 L468.2,296.4 L469.1,299.3 L470.0,299.6 L470.9,299.1 L471.8,295.0 L472.7,289.1 L473.6,295.2 L474.5,297.1 L475.4,297.2 L476.3,302.7 L477.2,302.6 L478.1,306.5 L479.0,307.5 L479.9,309.0 L480.8,307.1 L481.7,309.0 L482.6,313.1 L483.5,316.8 L484.4,316.5 L485.3,320.8 L486.2,322.2 L487.1,322.8 L488.0,324.9 L488.9,326.1 L489.8,327.9 L490.7,329.7 L491.6,330.0 L492.5,331.9 L493.4,332.7 L494.3,333.2 L495.2,334.2 L496.1,333.9 L497.0,334.6 L497.9,335.5 L498.8,334.9 L499.7,335.1 L500.6,335.4 L501.5,335.8 L502.4,335.5 L503.3,335.7 L504.2,335.4 L505.1,335.7 L506.0,335.8 L506.9,335.8 L507.8,336.1 L508.7,336.4 L509.6,336.2 L510.5,336.1 L511.4,336.5 L512.3,336.5 L513.2,336.1 L514.0,336.5" fill="none" stroke="#000" stroke-width="0.9" stroke-linejoin="round"/>
<path d="M408.7,336.0 L409.7,335.3 L410.7,333.9 L411.7,332.2 L412.7,329.4 L413.7,326.4 L414.7,322.4 L415.7,318.2 L416.7,313.3 L417.7,308.7 L418.7,303.5 L419.7,299.4 L420.7,296.0 L421.7,292.2 L422.7,286.7 L423.7,284.3 L424.7,281.1 L425.7,274.7 L426.7,276.5 L427.7,276.5 L428.7,280.3 L429.7,285.0 L430.7,287.8 L431.7,292.4 L432.7,297.8 L433.7,303.3 L434.7,309.1 L435.7,313.2 L436.7,317.2 L437.7,320.3 L438.7,323.9 L439.7,325.5 L440.7,328.1 L441.7,329.4 L442.7,331.0 L443.7,332.2 L444.7,332.5 L445.7,333.8 L446.7,334.5 L447.7,335.2 L448.7,335.6 L448.9,335.8" fill="none" stroke="#1a1a1a" stroke-width="1.35" stroke-dasharray="1.4 1.9"/>
</g>
<path d="M398.5,260.5 H514 V337.5" fill="none" stroke="#2a2a2a" stroke-width="1.4"/>
<path d="M398.5,260 V337.5 H514.5" fill="none" stroke="#000" stroke-width="1.8"/>
<path d="M398.5,337.5 h-4.2 M398.5,333.65 h-2.4 M398.5,329.8 h-2.4 M398.5,325.95 h-2.4 M398.5,322.1 h-4.2 M398.5,318.25 h-2.4 M398.5,314.4 h-2.4 M398.5,310.55 h-2.4 M398.5,306.7 h-4.2 M398.5,302.85 h-2.4 M398.5,299 h-2.4 M398.5,295.15 h-2.4 M398.5,291.3 h-4.2 M398.5,287.45 h-2.4 M398.5,283.6 h-2.4 M398.5,279.75 h-2.4 M398.5,275.9 h-4.2 M398.5,272.05 h-2.4 M398.5,268.2 h-2.4 M398.5,264.35 h-2.4 M398.5,260.5 h-4.2" stroke="#000" stroke-width="1.2" fill="none"/>
<path d="M398.5,337.5 v3.8 M407.19,337.5 v2.7 M412.28,337.5 v2.7 M415.88,337.5 v2.7 M418.68,337.5 v2.7 M420.97,337.5 v2.7 M422.9,337.5 v2.7 M424.58,337.5 v2.7 M426.05,337.5 v2.7 M427.38,337.5 v3.8 M436.07,337.5 v2.7 M441.15,337.5 v2.7 M444.76,337.5 v2.7 M447.56,337.5 v2.7 M449.84,337.5 v2.7 M451.78,337.5 v2.7 M453.45,337.5 v2.7 M454.93,337.5 v2.7 M456.25,337.5 v3.8 M464.94,337.5 v2.7 M470.03,337.5 v2.7 M473.63,337.5 v2.7 M476.43,337.5 v2.7 M478.72,337.5 v2.7 M480.65,337.5 v2.7 M482.33,337.5 v2.7 M483.8,337.5 v2.7 M485.12,337.5 v3.8 M493.82,337.5 v2.7 M498.9,337.5 v2.7 M502.51,337.5 v2.7 M505.31,337.5 v2.7 M507.59,337.5 v2.7 M509.53,337.5 v2.7 M511.2,337.5 v2.7 M512.68,337.5 v2.7 M514,337.5 v3.8" stroke="#000" stroke-width="1.2" fill="none"/>
<text class="yt" text-anchor="middle" transform="translate(391.55,337) rotate(-90) scale(1.08,1)">0</text>
<text class="yt" text-anchor="middle" transform="translate(391.55,322.4) rotate(-90) scale(1.08,1)">40</text>
<text class="yt" text-anchor="middle" transform="translate(391.55,307) rotate(-90) scale(1.08,1)">80</text>
<text class="yt" text-anchor="middle" transform="translate(391.55,290.8) rotate(-90) scale(1.08,1)">120</text>
<text class="yt" text-anchor="middle" transform="translate(391.55,275.4) rotate(-90) scale(1.08,1)">160</text>
<text class="yt" text-anchor="middle" transform="translate(391.55,260.8) rotate(-90) scale(1.08,1)">200</text>
<text class="ax" text-anchor="middle" transform="translate(383.1,300.4) rotate(-90) scale(0.84,1)">Counts</text>
<text class="xt" text-anchor="end" transform="translate(399.7,350.65) scale(0.75,1)">10</text>
<text class="sup" transform="translate(400,346.4) scale(0.9,1)">0</text>
<text class="xt" text-anchor="end" transform="translate(428.57,350.65) scale(0.75,1)">10</text>
<text class="sup" transform="translate(428.88,346.4) scale(0.9,1)">1</text>
<text class="xt" text-anchor="end" transform="translate(457.45,350.65) scale(0.75,1)">10</text>
<text class="sup" transform="translate(457.75,346.4) scale(0.9,1)">2</text>
<text class="xt" text-anchor="end" transform="translate(486.32,350.65) scale(0.75,1)">10</text>
<text class="sup" transform="translate(486.62,346.4) scale(0.9,1)">3</text>
<text class="xt" text-anchor="end" transform="translate(515.2,350.65) scale(0.75,1)">10</text>
<text class="sup" transform="translate(515.5,346.4) scale(0.9,1)">4</text>
<text class="xl" text-anchor="middle" transform="translate(455.75,357.7) scale(0.87,1)">FL1-H</text>
</g>
</svg>
</body>
</html>
